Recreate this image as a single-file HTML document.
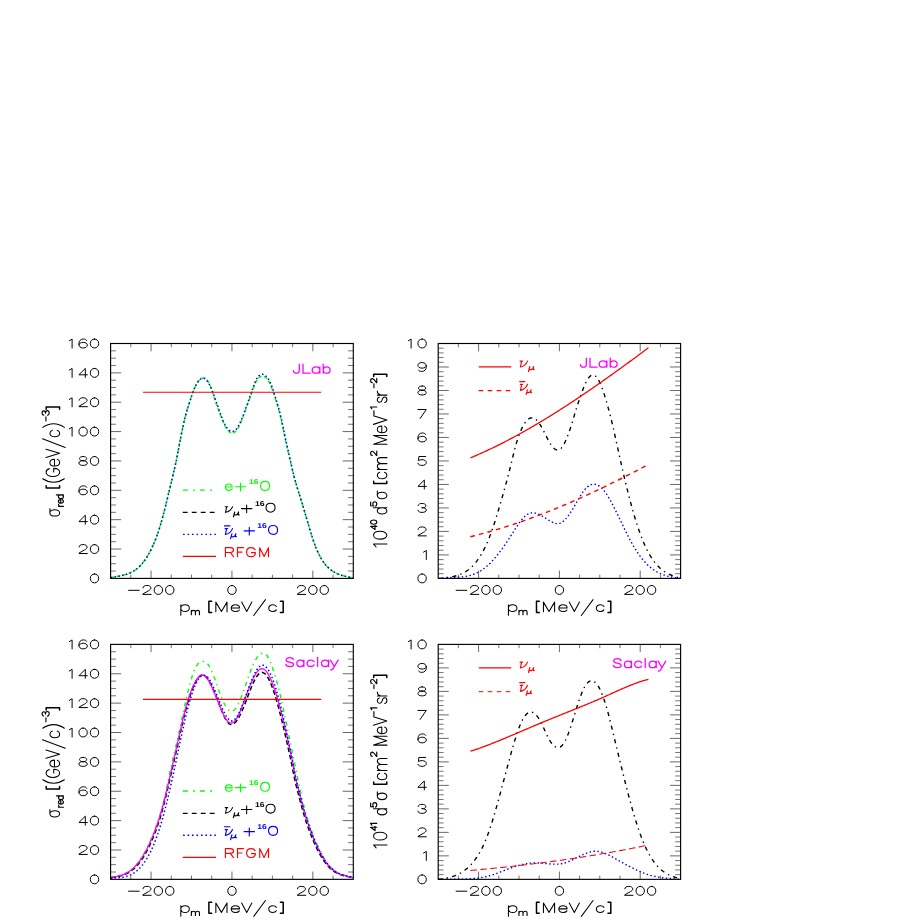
<!DOCTYPE html>
<html lang="en"><head><meta charset="utf-8"><title>Reduced and differential cross sections</title>
<style>html,body{margin:0;padding:0;background:#fff;width:919px;height:919px;overflow:hidden}svg{display:block;font-family:"Liberation Sans",sans-serif}</style></head>
<body>
<svg width="919" height="919" viewBox="0 0 919 919" text-rendering="geometricPrecision">
<rect x="0" y="0" width="919" height="919" fill="#fff"/>
<g opacity="0.999">
<clipPath id="c1"><rect x="110.6" y="343.5" width="242.7" height="235.5"/></clipPath>
<clipPath id="c2"><rect x="438.2" y="343.5" width="242.4" height="235.5"/></clipPath>
<clipPath id="c3"><rect x="110.6" y="644.4" width="242.7" height="235.55"/></clipPath>
<clipPath id="c4"><rect x="438.2" y="644.4" width="242.4" height="235.55"/></clipPath>
<g clip-path="url(#c1)">
<path d="M110.7 577.8 L111.7 577.55 L112.7 577.32 L113.71 577.1 L114.71 576.9 L115.71 576.7 L116.71 576.51 L117.72 576.33 L118.72 576.14 L119.72 575.94 L120.72 575.74 L121.73 575.53 L122.73 575.3 L123.73 575.06 L124.73 574.8 L125.74 574.51 L126.74 574.19 L127.74 573.85 L128.74 573.47 L129.75 573.05 L130.75 572.6 L131.75 572.1 L132.75 571.56 L133.76 570.96 L134.76 570.31 L135.76 569.61 L136.76 568.85 L137.77 568.02 L138.77 567.13 L139.77 566.17 L140.77 565.14 L141.78 564.03 L142.78 562.84 L143.78 561.57 L144.78 560.22 L145.79 558.77 L146.79 557.24 L147.79 555.61 L148.79 553.88 L149.8 552.05 L150.8 550.11 L151.8 548.07 L152.8 545.92 L153.81 543.65 L154.81 541.25 L155.81 538.72 L156.81 536.05 L157.82 533.23 L158.82 530.25 L159.82 527.1 L160.82 523.78 L161.83 520.28 L162.83 516.59 L163.83 512.75 L164.83 508.79 L165.84 504.74 L166.84 500.63 L167.84 496.49 L168.84 492.35 L169.85 488.24 L170.85 484.16 L171.85 480.05 L172.85 475.89 L173.86 471.61 L174.86 467.16 L175.86 462.52 L176.86 457.62 L177.87 452.49 L178.87 447.24 L179.87 441.98 L180.87 436.81 L181.88 431.8 L182.88 426.99 L183.88 422.44 L184.88 418.2 L185.89 414.32 L186.89 410.8 L187.89 407.53 L188.89 404.38 L189.9 401.26 L190.9 398.16 L191.9 395.16 L192.9 392.33 L193.91 389.73 L194.91 387.39 L195.91 385.31 L196.91 383.48 L197.92 381.91 L198.92 380.6 L199.92 379.54 L200.92 378.75 L201.93 378.22 L202.93 377.95 L203.93 377.95 L204.93 378.25 L205.94 378.88 L206.94 379.87 L207.94 381.26 L208.94 383.07 L209.95 385.29 L210.95 387.86 L211.95 390.68 L212.95 393.68 L213.96 396.78 L214.96 399.89 L215.96 402.93 L216.96 405.84 L217.97 408.61 L218.97 411.28 L219.97 413.89 L220.97 416.47 L221.98 419.01 L222.98 421.47 L223.98 423.77 L224.98 425.86 L225.99 427.69 L226.99 429.25 L227.99 430.54 L228.99 431.56 L230 432.3 L231 432.77 L232 432.96 L233 432.87 L234 432.51 L235.01 431.86 L236.01 430.93 L237.01 429.72 L238.01 428.22 L239.02 426.44 L240.02 424.39 L241.02 422.11 L242.02 419.63 L243.03 417.01 L244.03 414.29 L245.03 411.49 L246.03 408.68 L247.04 405.87 L248.04 403.13 L249.04 400.42 L250.04 397.72 L251.05 394.98 L252.05 392.17 L253.05 389.31 L254.05 386.52 L255.06 383.94 L256.06 381.71 L257.06 379.91 L258.06 378.53 L259.07 377.53 L260.07 376.85 L261.07 376.46 L262.07 376.31 L263.08 376.37 L264.08 376.62 L265.08 377.1 L266.08 377.84 L267.09 378.85 L268.09 380.17 L269.09 381.84 L270.09 383.89 L271.1 386.32 L272.1 389.02 L273.1 391.91 L274.1 394.9 L275.11 397.96 L276.11 401.12 L277.11 404.38 L278.11 407.78 L279.12 411.39 L280.12 415.3 L281.12 419.56 L282.12 424.12 L283.13 428.83 L284.13 433.54 L285.13 438.18 L286.13 442.73 L287.14 447.19 L288.14 451.58 L289.14 455.95 L290.14 460.36 L291.15 464.74 L292.15 469.04 L293.15 473.18 L294.15 477.1 L295.16 480.78 L296.16 484.26 L297.16 487.6 L298.16 490.83 L299.17 494.01 L300.17 497.19 L301.17 500.4 L302.17 503.67 L303.18 506.97 L304.18 510.3 L305.18 513.66 L306.18 517.04 L307.19 520.43 L308.19 523.82 L309.19 527.21 L310.19 530.57 L311.2 533.87 L312.2 537.08 L313.2 540.16 L314.2 543.06 L315.21 545.78 L316.21 548.32 L317.21 550.69 L318.21 552.9 L319.22 554.95 L320.22 556.85 L321.22 558.62 L322.22 560.25 L323.23 561.75 L324.23 563.14 L325.23 564.41 L326.23 565.59 L327.24 566.67 L328.24 567.66 L329.24 568.57 L330.24 569.41 L331.25 570.19 L332.25 570.91 L333.25 571.57 L334.25 572.17 L335.26 572.73 L336.26 573.24 L337.26 573.71 L338.26 574.14 L339.27 574.53 L340.27 574.89 L341.27 575.22 L342.27 575.53 L343.28 575.8 L344.28 576.06 L345.28 576.31 L346.28 576.53 L347.29 576.75 L348.29 576.96 L349.29 577.17 L350.29 577.38 L351.3 577.59 L352.3 577.8 L353.3 578.02" fill="none" stroke="#00ff00" stroke-width="1.5" stroke-linecap="butt" stroke-linejoin="round" stroke-dasharray="3.8 2.3"/>
<path d="M110.7 577.8 L111.7 577.55 L112.7 577.32 L113.71 577.11 L114.71 576.9 L115.71 576.71 L116.71 576.52 L117.72 576.33 L118.72 576.14 L119.72 575.94 L120.72 575.74 L121.73 575.53 L122.73 575.3 L123.73 575.06 L124.73 574.8 L125.74 574.51 L126.74 574.19 L127.74 573.85 L128.74 573.47 L129.75 573.05 L130.75 572.6 L131.75 572.1 L132.75 571.55 L133.76 570.96 L134.76 570.31 L135.76 569.61 L136.76 568.85 L137.77 568.02 L138.77 567.13 L139.77 566.17 L140.77 565.13 L141.78 564.03 L142.78 562.84 L143.78 561.57 L144.78 560.21 L145.79 558.77 L146.79 557.24 L147.79 555.61 L148.79 553.88 L149.8 552.05 L150.8 550.11 L151.8 548.07 L152.8 545.92 L153.81 543.65 L154.81 541.25 L155.81 538.73 L156.81 536.06 L157.82 533.24 L158.82 530.26 L159.82 527.11 L160.82 523.79 L161.83 520.28 L162.83 516.59 L163.83 512.75 L164.83 508.79 L165.84 504.73 L166.84 500.62 L167.84 496.48 L168.84 492.34 L169.85 488.23 L170.85 484.15 L171.85 480.05 L172.85 475.89 L173.86 471.61 L174.86 467.18 L175.86 462.53 L176.86 457.64 L177.87 452.52 L178.87 447.27 L179.87 442.01 L180.87 436.81 L181.88 431.77 L182.88 426.93 L183.88 422.37 L184.88 418.14 L185.89 414.31 L186.89 410.85 L187.89 407.65 L188.89 404.55 L189.9 401.41 L190.9 398.24 L191.9 395.15 L192.9 392.23 L193.91 389.57 L194.91 387.18 L195.91 385.07 L196.91 383.25 L197.92 381.7 L198.92 380.44 L199.92 379.47 L200.92 378.78 L201.93 378.38 L202.93 378.26 L203.93 378.44 L204.93 378.9 L205.94 379.66 L206.94 380.71 L207.94 382.05 L208.94 383.68 L209.95 385.59 L210.95 387.75 L211.95 390.1 L212.95 392.64 L213.96 395.31 L214.96 398.1 L215.96 400.96 L216.96 403.86 L217.97 406.77 L218.97 409.65 L219.97 412.48 L220.97 415.22 L221.98 417.83 L222.98 420.29 L223.98 422.55 L224.98 424.6 L225.99 426.38 L226.99 427.91 L227.99 429.17 L228.99 430.16 L230 430.88 L231 431.33 L232 431.51 L233 431.42 L234 431.05 L235.01 430.41 L236.01 429.48 L237.01 428.28 L238.01 426.8 L239.02 425.04 L240.02 423.02 L241.02 420.77 L242.02 418.34 L243.03 415.76 L244.03 413.06 L245.03 410.28 L246.03 407.46 L247.04 404.63 L248.04 401.82 L249.04 399 L250.04 396.17 L251.05 393.29 L252.05 390.36 L253.05 387.46 L254.05 384.69 L255.06 382.16 L256.06 379.98 L257.06 378.17 L258.06 376.73 L259.07 375.63 L260.07 374.86 L261.07 374.4 L262.07 374.23 L263.08 374.35 L264.08 374.72 L265.08 375.34 L266.08 376.18 L267.09 377.24 L268.09 378.52 L269.09 380.1 L270.09 382.05 L271.1 384.42 L272.1 387.14 L273.1 390.1 L274.1 393.19 L275.11 396.32 L276.11 399.52 L277.11 402.79 L278.11 406.17 L279.12 409.73 L280.12 413.58 L281.12 417.81 L282.12 422.45 L283.13 427.3 L284.13 432.18 L285.13 436.97 L286.13 441.64 L287.14 446.2 L288.14 450.66 L289.14 455.11 L290.14 459.59 L291.15 464.07 L292.15 468.47 L293.15 472.72 L294.15 476.74 L295.16 480.5 L296.16 484.03 L297.16 487.4 L298.16 490.65 L299.17 493.85 L300.17 497.03 L301.17 500.26 L302.17 503.54 L303.18 506.86 L304.18 510.21 L305.18 513.59 L306.18 516.98 L307.19 520.38 L308.19 523.79 L309.19 527.19 L310.19 530.56 L311.2 533.87 L312.2 537.08 L313.2 540.15 L314.2 543.05 L315.21 545.77 L316.21 548.32 L317.21 550.69 L318.21 552.89 L319.22 554.94 L320.22 556.85 L321.22 558.61 L322.22 560.24 L323.23 561.75 L324.23 563.14 L325.23 564.41 L326.23 565.59 L327.24 566.67 L328.24 567.66 L329.24 568.57 L330.24 569.41 L331.25 570.19 L332.25 570.91 L333.25 571.57 L334.25 572.18 L335.26 572.73 L336.26 573.25 L337.26 573.71 L338.26 574.14 L339.27 574.53 L340.27 574.89 L341.27 575.22 L342.27 575.53 L343.28 575.8 L344.28 576.06 L345.28 576.31 L346.28 576.53 L347.29 576.75 L348.29 576.96 L349.29 577.17 L350.29 577.38 L351.3 577.59 L352.3 577.8 L353.3 578.03" fill="none" stroke="#0000ff" stroke-width="1.5" stroke-linecap="butt" stroke-linejoin="round" stroke-dasharray="1.5 2.4"/>
</g>
<path d="M142.9 392.3H321.2" stroke="#ff0000" stroke-width="1.1" fill="none"/>
<g clip-path="url(#c2)">
<path d="M438.4 578.61 L439.4 578.46 L440.4 578.33 L441.4 578.2 L442.4 578.08 L443.4 577.96 L444.4 577.85 L445.4 577.73 L446.4 577.61 L447.4 577.48 L448.4 577.35 L449.4 577.2 L450.4 577.05 L451.4 576.88 L452.4 576.69 L453.4 576.49 L454.4 576.26 L455.4 576.01 L456.4 575.74 L457.4 575.44 L458.4 575.11 L459.4 574.75 L460.4 574.35 L461.4 573.92 L462.4 573.45 L463.4 572.94 L464.4 572.39 L465.4 571.79 L466.4 571.15 L467.4 570.46 L468.4 569.72 L469.4 568.92 L470.4 568.07 L471.4 567.16 L472.4 566.19 L473.4 565.16 L474.4 564.06 L475.4 562.89 L476.4 561.64 L477.4 560.32 L478.4 558.92 L479.4 557.44 L480.4 555.86 L481.4 554.2 L482.4 552.45 L483.4 550.6 L484.4 548.65 L485.4 546.6 L486.4 544.45 L487.4 542.19 L488.4 539.82 L489.4 537.33 L490.4 534.74 L491.4 532.02 L492.4 529.19 L493.4 526.24 L494.4 523.2 L495.4 520.07 L496.4 516.86 L497.4 513.58 L498.4 510.26 L499.4 506.89 L500.4 503.49 L501.4 500.06 L502.4 496.61 L503.4 493.11 L504.4 489.56 L505.4 485.95 L506.4 482.28 L507.4 478.54 L508.4 474.71 L509.4 470.79 L510.4 466.78 L511.4 462.69 L512.4 458.58 L513.4 454.51 L514.4 450.55 L515.4 446.75 L516.4 443.17 L517.4 439.87 L518.4 436.83 L519.4 434.05 L520.4 431.52 L521.4 429.22 L522.4 427.14 L523.4 425.29 L524.4 423.64 L525.4 422.19 L526.4 420.95 L527.4 419.91 L528.4 419.08 L529.4 418.46 L530.4 418.04 L531.4 417.83 L532.4 417.82 L533.4 418.03 L534.4 418.44 L535.4 419.06 L536.4 419.89 L537.4 420.93 L538.4 422.17 L539.4 423.6 L540.4 425.19 L541.4 426.91 L542.4 428.73 L543.4 430.63 L544.4 432.57 L545.4 434.54 L546.4 436.51 L547.4 438.44 L548.4 440.31 L549.4 442.1 L550.4 443.77 L551.4 445.3 L552.4 446.66 L553.4 447.83 L554.4 448.77 L555.4 449.47 L556.4 449.89 L557.4 450.05 L558.4 449.93 L559.4 449.53 L560.4 448.85 L561.4 447.9 L562.4 446.67 L563.4 445.16 L564.4 443.36 L565.4 441.28 L566.4 438.95 L567.4 436.43 L568.4 433.78 L569.4 431.03 L570.4 428.17 L571.4 425.16 L572.4 421.96 L573.4 418.59 L574.4 415.14 L575.4 411.72 L576.4 408.44 L577.4 405.35 L578.4 402.4 L579.4 399.54 L580.4 396.7 L581.4 393.84 L582.4 391 L583.4 388.27 L584.4 385.71 L585.4 383.39 L586.4 381.34 L587.4 379.57 L588.4 378.08 L589.4 376.88 L590.4 375.97 L591.4 375.36 L592.4 375.05 L593.4 375.04 L594.4 375.35 L595.4 375.97 L596.4 376.91 L597.4 378.18 L598.4 379.77 L599.4 381.67 L600.4 383.85 L601.4 386.28 L602.4 388.94 L603.4 391.81 L604.4 394.86 L605.4 398.06 L606.4 401.41 L607.4 404.89 L608.4 408.5 L609.4 412.26 L610.4 416.15 L611.4 420.18 L612.4 424.36 L613.4 428.66 L614.4 433.05 L615.4 437.53 L616.4 442.05 L617.4 446.61 L618.4 451.18 L619.4 455.73 L620.4 460.24 L621.4 464.69 L622.4 469.1 L623.4 473.44 L624.4 477.72 L625.4 481.93 L626.4 486.07 L627.4 490.13 L628.4 494.11 L629.4 498.01 L630.4 501.81 L631.4 505.52 L632.4 509.13 L633.4 512.64 L634.4 516.05 L635.4 519.36 L636.4 522.55 L637.4 525.65 L638.4 528.64 L639.4 531.52 L640.4 534.29 L641.4 536.95 L642.4 539.51 L643.4 541.95 L644.4 544.29 L645.4 546.51 L646.4 548.62 L647.4 550.63 L648.4 552.53 L649.4 554.33 L650.4 556.03 L651.4 557.64 L652.4 559.16 L653.4 560.6 L654.4 561.94 L655.4 563.21 L656.4 564.4 L657.4 565.52 L658.4 566.57 L659.4 567.55 L660.4 568.46 L661.4 569.32 L662.4 570.12 L663.4 570.86 L664.4 571.55 L665.4 572.2 L666.4 572.8 L667.4 573.36 L668.4 573.88 L669.4 574.37 L670.4 574.82 L671.4 575.25 L672.4 575.66 L673.4 576.04 L674.4 576.41 L675.4 576.76 L676.4 577.1 L677.4 577.43 L678.4 577.76 L679.4 578.09 L680.4 578.42" fill="none" stroke="#000000" stroke-width="1.4" stroke-linecap="butt" stroke-linejoin="round" stroke-dasharray="4.2 4.2 1.4 4.2"/>
<path d="M438.4 578.69 L439.4 578.52 L440.4 578.37 L441.4 578.24 L442.4 578.13 L443.4 578.03 L444.4 577.94 L445.4 577.86 L446.4 577.79 L447.4 577.73 L448.4 577.68 L449.4 577.63 L450.4 577.58 L451.4 577.54 L452.4 577.5 L453.4 577.46 L454.4 577.42 L455.4 577.37 L456.4 577.32 L457.4 577.26 L458.4 577.2 L459.4 577.13 L460.4 577.04 L461.4 576.95 L462.4 576.84 L463.4 576.72 L464.4 576.58 L465.4 576.42 L466.4 576.25 L467.4 576.05 L468.4 575.84 L469.4 575.6 L470.4 575.33 L471.4 575.04 L472.4 574.72 L473.4 574.38 L474.4 574 L475.4 573.59 L476.4 573.15 L477.4 572.68 L478.4 572.17 L479.4 571.62 L480.4 571.03 L481.4 570.4 L482.4 569.73 L483.4 569.02 L484.4 568.27 L485.4 567.47 L486.4 566.63 L487.4 565.75 L488.4 564.83 L489.4 563.87 L490.4 562.88 L491.4 561.85 L492.4 560.78 L493.4 559.67 L494.4 558.54 L495.4 557.37 L496.4 556.17 L497.4 554.94 L498.4 553.67 L499.4 552.38 L500.4 551.06 L501.4 549.72 L502.4 548.35 L503.4 546.95 L504.4 545.53 L505.4 544.09 L506.4 542.62 L507.4 541.14 L508.4 539.63 L509.4 538.11 L510.4 536.56 L511.4 535 L512.4 533.43 L513.4 531.85 L514.4 530.27 L515.4 528.71 L516.4 527.16 L517.4 525.65 L518.4 524.18 L519.4 522.76 L520.4 521.39 L521.4 520.1 L522.4 518.89 L523.4 517.76 L524.4 516.73 L525.4 515.81 L526.4 515 L527.4 514.32 L528.4 513.78 L529.4 513.36 L530.4 513.07 L531.4 512.89 L532.4 512.82 L533.4 512.85 L534.4 512.97 L535.4 513.17 L536.4 513.45 L537.4 513.79 L538.4 514.2 L539.4 514.65 L540.4 515.15 L541.4 515.69 L542.4 516.26 L543.4 516.85 L544.4 517.46 L545.4 518.09 L546.4 518.72 L547.4 519.35 L548.4 519.98 L549.4 520.59 L550.4 521.18 L551.4 521.74 L552.4 522.25 L553.4 522.7 L554.4 523.09 L555.4 523.38 L556.4 523.57 L557.4 523.65 L558.4 523.6 L559.4 523.4 L560.4 523.06 L561.4 522.56 L562.4 521.92 L563.4 521.15 L564.4 520.25 L565.4 519.24 L566.4 518.11 L567.4 516.89 L568.4 515.58 L569.4 514.18 L570.4 512.7 L571.4 511.16 L572.4 509.56 L573.4 507.92 L574.4 506.22 L575.4 504.5 L576.4 502.75 L577.4 500.98 L578.4 499.23 L579.4 497.5 L580.4 495.83 L581.4 494.23 L582.4 492.72 L583.4 491.31 L584.4 490.02 L585.4 488.84 L586.4 487.79 L587.4 486.87 L588.4 486.09 L589.4 485.45 L590.4 484.94 L591.4 484.57 L592.4 484.33 L593.4 484.22 L594.4 484.23 L595.4 484.38 L596.4 484.65 L597.4 485.04 L598.4 485.55 L599.4 486.19 L600.4 486.95 L601.4 487.82 L602.4 488.81 L603.4 489.91 L604.4 491.13 L605.4 492.46 L606.4 493.89 L607.4 495.42 L608.4 497.03 L609.4 498.72 L610.4 500.49 L611.4 502.32 L612.4 504.2 L613.4 506.13 L614.4 508.1 L615.4 510.09 L616.4 512.12 L617.4 514.16 L618.4 516.22 L619.4 518.29 L620.4 520.37 L621.4 522.45 L622.4 524.53 L623.4 526.6 L624.4 528.66 L625.4 530.7 L626.4 532.72 L627.4 534.71 L628.4 536.68 L629.4 538.6 L630.4 540.49 L631.4 542.33 L632.4 544.13 L633.4 545.87 L634.4 547.55 L635.4 549.19 L636.4 550.77 L637.4 552.29 L638.4 553.77 L639.4 555.19 L640.4 556.56 L641.4 557.87 L642.4 559.14 L643.4 560.34 L644.4 561.5 L645.4 562.6 L646.4 563.65 L647.4 564.65 L648.4 565.59 L649.4 566.49 L650.4 567.34 L651.4 568.14 L652.4 568.9 L653.4 569.62 L654.4 570.29 L655.4 570.93 L656.4 571.53 L657.4 572.09 L658.4 572.62 L659.4 573.11 L660.4 573.58 L661.4 574.01 L662.4 574.41 L663.4 574.79 L664.4 575.14 L665.4 575.47 L666.4 575.77 L667.4 576.06 L668.4 576.32 L669.4 576.57 L670.4 576.8 L671.4 577.02 L672.4 577.22 L673.4 577.42 L674.4 577.6 L675.4 577.78 L676.4 577.95 L677.4 578.11 L678.4 578.27 L679.4 578.43 L680.4 578.59" fill="none" stroke="#0000ff" stroke-width="1.4" stroke-linecap="butt" stroke-linejoin="round" stroke-dasharray="1.5 2.4"/>
<path d="M470.4 536.72 L471.4 536.47 L472.4 536.23 L473.4 535.98 L474.4 535.73 L475.4 535.47 L476.4 535.22 L477.4 534.96 L478.4 534.7 L479.4 534.44 L480.4 534.18 L481.4 533.91 L482.4 533.64 L483.4 533.37 L484.4 533.1 L485.4 532.83 L486.4 532.55 L487.4 532.27 L488.4 531.99 L489.4 531.71 L490.4 531.42 L491.4 531.13 L492.4 530.85 L493.4 530.55 L494.4 530.26 L495.4 529.97 L496.4 529.67 L497.4 529.37 L498.4 529.07 L499.4 528.76 L500.4 528.46 L501.4 528.15 L502.4 527.84 L503.4 527.53 L504.4 527.22 L505.4 526.9 L506.4 526.58 L507.4 526.27 L508.4 525.94 L509.4 525.62 L510.4 525.3 L511.4 524.97 L512.4 524.64 L513.4 524.31 L514.4 523.97 L515.4 523.64 L516.4 523.3 L517.4 522.96 L518.4 522.62 L519.4 522.28 L520.4 521.94 L521.4 521.59 L522.4 521.24 L523.4 520.89 L524.4 520.54 L525.4 520.18 L526.4 519.83 L527.4 519.47 L528.4 519.11 L529.4 518.75 L530.4 518.39 L531.4 518.02 L532.4 517.66 L533.4 517.29 L534.4 516.92 L535.4 516.54 L536.4 516.17 L537.4 515.79 L538.4 515.42 L539.4 515.04 L540.4 514.66 L541.4 514.27 L542.4 513.89 L543.4 513.5 L544.4 513.11 L545.4 512.72 L546.4 512.33 L547.4 511.94 L548.4 511.54 L549.4 511.15 L550.4 510.75 L551.4 510.35 L552.4 509.95 L553.4 509.54 L554.4 509.14 L555.4 508.73 L556.4 508.32 L557.4 507.91 L558.4 507.5 L559.4 507.09 L560.4 506.67 L561.4 506.26 L562.4 505.84 L563.4 505.42 L564.4 505 L565.4 504.57 L566.4 504.15 L567.4 503.72 L568.4 503.29 L569.4 502.86 L570.4 502.43 L571.4 502 L572.4 501.56 L573.4 501.13 L574.4 500.69 L575.4 500.25 L576.4 499.81 L577.4 499.37 L578.4 498.93 L579.4 498.48 L580.4 498.03 L581.4 497.59 L582.4 497.14 L583.4 496.69 L584.4 496.23 L585.4 495.78 L586.4 495.32 L587.4 494.87 L588.4 494.41 L589.4 493.95 L590.4 493.49 L591.4 493.02 L592.4 492.56 L593.4 492.09 L594.4 491.63 L595.4 491.16 L596.4 490.69 L597.4 490.22 L598.4 489.74 L599.4 489.27 L600.4 488.79 L601.4 488.32 L602.4 487.84 L603.4 487.36 L604.4 486.88 L605.4 486.39 L606.4 485.91 L607.4 485.42 L608.4 484.94 L609.4 484.45 L610.4 483.96 L611.4 483.47 L612.4 482.98 L613.4 482.49 L614.4 481.99 L615.4 481.5 L616.4 481 L617.4 480.5 L618.4 480 L619.4 479.5 L620.4 479 L621.4 478.5 L622.4 477.99 L623.4 477.48 L624.4 476.98 L625.4 476.47 L626.4 475.96 L627.4 475.45 L628.4 474.94 L629.4 474.42 L630.4 473.91 L631.4 473.39 L632.4 472.88 L633.4 472.36 L634.4 471.84 L635.4 471.32 L636.4 470.8 L637.4 470.28 L638.4 469.75 L639.4 469.23 L640.4 468.7 L641.4 468.18 L642.4 467.65 L643.4 467.12 L644.4 466.59 L645.4 466.06 L646.4 465.52 L647.4 464.99 L648.4 464.46" fill="none" stroke="#ff0000" stroke-width="1.4" stroke-linecap="butt" stroke-linejoin="round" stroke-dasharray="4.6 4.2"/>
<path d="M470.4 457.89 L471.4 457.48 L472.4 457.06 L473.4 456.63 L474.4 456.21 L475.4 455.78 L476.4 455.35 L477.4 454.91 L478.4 454.47 L479.4 454.03 L480.4 453.59 L481.4 453.14 L482.4 452.69 L483.4 452.23 L484.4 451.78 L485.4 451.32 L486.4 450.86 L487.4 450.39 L488.4 449.92 L489.4 449.45 L490.4 448.98 L491.4 448.5 L492.4 448.02 L493.4 447.54 L494.4 447.05 L495.4 446.57 L496.4 446.07 L497.4 445.58 L498.4 445.08 L499.4 444.59 L500.4 444.08 L501.4 443.58 L502.4 443.07 L503.4 442.56 L504.4 442.05 L505.4 441.54 L506.4 441.02 L507.4 440.5 L508.4 439.97 L509.4 439.45 L510.4 438.92 L511.4 438.39 L512.4 437.86 L513.4 437.32 L514.4 436.78 L515.4 436.24 L516.4 435.7 L517.4 435.15 L518.4 434.6 L519.4 434.05 L520.4 433.5 L521.4 432.95 L522.4 432.39 L523.4 431.83 L524.4 431.26 L525.4 430.7 L526.4 430.13 L527.4 429.56 L528.4 428.99 L529.4 428.42 L530.4 427.84 L531.4 427.26 L532.4 426.68 L533.4 426.1 L534.4 425.51 L535.4 424.92 L536.4 424.33 L537.4 423.74 L538.4 423.15 L539.4 422.55 L540.4 421.95 L541.4 421.35 L542.4 420.75 L543.4 420.14 L544.4 419.54 L545.4 418.93 L546.4 418.32 L547.4 417.7 L548.4 417.09 L549.4 416.47 L550.4 415.85 L551.4 415.23 L552.4 414.61 L553.4 413.98 L554.4 413.35 L555.4 412.73 L556.4 412.1 L557.4 411.46 L558.4 410.83 L559.4 410.19 L560.4 409.55 L561.4 408.91 L562.4 408.27 L563.4 407.63 L564.4 406.98 L565.4 406.33 L566.4 405.68 L567.4 405.03 L568.4 404.38 L569.4 403.73 L570.4 403.07 L571.4 402.41 L572.4 401.75 L573.4 401.09 L574.4 400.43 L575.4 399.77 L576.4 399.1 L577.4 398.43 L578.4 397.76 L579.4 397.09 L580.4 396.42 L581.4 395.75 L582.4 395.07 L583.4 394.39 L584.4 393.72 L585.4 393.04 L586.4 392.35 L587.4 391.67 L588.4 390.99 L589.4 390.3 L590.4 389.61 L591.4 388.93 L592.4 388.24 L593.4 387.54 L594.4 386.85 L595.4 386.16 L596.4 385.46 L597.4 384.77 L598.4 384.07 L599.4 383.37 L600.4 382.67 L601.4 381.97 L602.4 381.26 L603.4 380.56 L604.4 379.85 L605.4 379.15 L606.4 378.44 L607.4 377.73 L608.4 377.02 L609.4 376.31 L610.4 375.6 L611.4 374.88 L612.4 374.17 L613.4 373.45 L614.4 372.74 L615.4 372.02 L616.4 371.3 L617.4 370.58 L618.4 369.86 L619.4 369.14 L620.4 368.42 L621.4 367.69 L622.4 366.97 L623.4 366.24 L624.4 365.51 L625.4 364.79 L626.4 364.06 L627.4 363.33 L628.4 362.6 L629.4 361.87 L630.4 361.14 L631.4 360.4 L632.4 359.67 L633.4 358.94 L634.4 358.2 L635.4 357.47 L636.4 356.73 L637.4 355.99 L638.4 355.25 L639.4 354.51 L640.4 353.78 L641.4 353.04 L642.4 352.29 L643.4 351.55 L644.4 350.81 L645.4 350.07 L646.4 349.33 L647.4 348.58 L648.4 347.84" fill="none" stroke="#ff0000" stroke-width="1.3" stroke-linecap="butt" stroke-linejoin="round"/>
</g>
<g clip-path="url(#c3)">
<path d="M110.7 877.57 L111.7 877.35 L112.7 877.14 L113.7 876.92 L114.7 876.7 L115.71 876.48 L116.71 876.24 L117.71 875.99 L118.71 875.72 L119.71 875.44 L120.71 875.13 L121.71 874.79 L122.71 874.42 L123.72 874.02 L124.72 873.58 L125.72 873.1 L126.72 872.58 L127.72 872.01 L128.72 871.39 L129.72 870.72 L130.72 869.99 L131.73 869.2 L132.73 868.34 L133.73 867.42 L134.73 866.43 L135.73 865.37 L136.73 864.23 L137.73 863.01 L138.73 861.71 L139.74 860.33 L140.74 858.87 L141.74 857.34 L142.74 855.72 L143.74 854.03 L144.74 852.26 L145.74 850.41 L146.74 848.48 L147.75 846.48 L148.75 844.4 L149.75 842.24 L150.75 840.01 L151.75 837.7 L152.75 835.31 L153.75 832.82 L154.75 830.23 L155.76 827.53 L156.76 824.71 L157.76 821.76 L158.76 818.69 L159.76 815.47 L160.76 812.1 L161.76 808.55 L162.76 804.81 L163.77 800.87 L164.77 796.71 L165.77 792.31 L166.77 787.66 L167.77 782.79 L168.77 777.81 L169.77 772.87 L170.77 768.09 L171.78 763.56 L172.78 759.25 L173.78 755.06 L174.78 750.9 L175.78 746.7 L176.78 742.39 L177.78 737.96 L178.78 733.43 L179.79 728.8 L180.79 724.1 L181.79 719.35 L182.79 714.59 L183.79 709.86 L184.79 705.21 L185.79 700.67 L186.79 696.29 L187.8 692.1 L188.8 688.14 L189.8 684.4 L190.8 680.87 L191.8 677.55 L192.8 674.46 L193.8 671.66 L194.8 669.2 L195.81 667.13 L196.81 665.43 L197.81 664.08 L198.81 663.04 L199.81 662.28 L200.81 661.78 L201.81 661.49 L202.81 661.41 L203.82 661.49 L204.82 661.74 L205.82 662.22 L206.82 662.98 L207.82 664.07 L208.82 665.49 L209.82 667.23 L210.82 669.24 L211.83 671.48 L212.83 673.92 L213.83 676.51 L214.83 679.23 L215.83 682.02 L216.83 684.85 L217.83 687.69 L218.83 690.5 L219.84 693.23 L220.84 695.85 L221.84 698.33 L222.84 700.66 L223.84 702.8 L224.84 704.75 L225.84 706.49 L226.84 707.99 L227.85 709.23 L228.85 710.2 L229.85 710.88 L230.85 711.25 L231.85 711.29 L232.85 710.98 L233.85 710.34 L234.85 709.38 L235.85 708.12 L236.86 706.6 L237.86 704.83 L238.86 702.83 L239.86 700.62 L240.86 698.24 L241.86 695.7 L242.86 693.02 L243.86 690.23 L244.87 687.35 L245.87 684.43 L246.87 681.49 L247.87 678.56 L248.87 675.68 L249.87 672.87 L250.87 670.17 L251.87 667.61 L252.88 665.22 L253.88 663.02 L254.88 661.03 L255.88 659.29 L256.88 657.78 L257.88 656.5 L258.88 655.44 L259.88 654.57 L260.89 653.89 L261.89 653.42 L262.89 653.22 L263.89 653.29 L264.89 653.69 L265.89 654.43 L266.89 655.51 L267.89 656.94 L268.9 658.74 L269.9 660.9 L270.9 663.36 L271.9 666.07 L272.9 668.97 L273.9 672.01 L274.9 675.18 L275.9 678.49 L276.91 681.97 L277.91 685.63 L278.91 689.48 L279.91 693.54 L280.91 697.81 L281.91 702.29 L282.91 706.92 L283.91 711.67 L284.92 716.49 L285.92 721.34 L286.92 726.18 L287.92 730.97 L288.92 735.73 L289.92 740.49 L290.92 745.28 L291.92 750.15 L292.93 755.06 L293.93 760 L294.93 764.95 L295.93 769.87 L296.93 774.76 L297.93 779.59 L298.93 784.33 L299.93 788.97 L300.94 793.47 L301.94 797.83 L302.94 802.01 L303.94 806 L304.94 809.79 L305.94 813.4 L306.94 816.83 L307.94 820.1 L308.95 823.22 L309.95 826.19 L310.95 829.03 L311.95 831.75 L312.95 834.36 L313.95 836.87 L314.95 839.29 L315.95 841.64 L316.96 843.91 L317.96 846.12 L318.96 848.25 L319.96 850.31 L320.96 852.29 L321.96 854.19 L322.96 856.02 L323.96 857.76 L324.97 859.42 L325.97 860.99 L326.97 862.47 L327.97 863.86 L328.97 865.17 L329.97 866.37 L330.97 867.49 L331.97 868.5 L332.98 869.43 L333.98 870.26 L334.98 871.02 L335.98 871.7 L336.98 872.31 L337.98 872.86 L338.98 873.35 L339.98 873.79 L340.99 874.18 L341.99 874.54 L342.99 874.86 L343.99 875.15 L344.99 875.42 L345.99 875.68 L346.99 875.92 L347.99 876.16 L349 876.41 L350 876.66 L351 876.92 L352 877.21 L353 877.52" fill="none" stroke="#00ff00" stroke-width="1.4" stroke-linecap="butt" stroke-linejoin="round" stroke-dasharray="4.2 4.2 1.4 4.2"/>
<path d="M110.7 877.87 L111.7 877.68 L112.7 877.5 L113.7 877.32 L114.7 877.13 L115.71 876.94 L116.71 876.74 L117.71 876.53 L118.71 876.31 L119.71 876.06 L120.71 875.79 L121.71 875.5 L122.71 875.18 L123.72 874.83 L124.72 874.45 L125.72 874.02 L126.72 873.56 L127.72 873.05 L128.72 872.5 L129.72 871.89 L130.72 871.24 L131.73 870.52 L132.73 869.75 L133.73 868.91 L134.73 868.01 L135.73 867.03 L136.73 865.99 L137.73 864.87 L138.73 863.67 L139.74 862.4 L140.74 861.05 L141.74 859.62 L142.74 858.11 L143.74 856.51 L144.74 854.84 L145.74 853.08 L146.74 851.24 L147.75 849.31 L148.75 847.29 L149.75 845.19 L150.75 843 L151.75 840.72 L152.75 838.36 L153.75 835.9 L154.75 833.35 L155.76 830.7 L156.76 827.95 L157.76 825.08 L158.76 822.09 L159.76 818.96 L160.76 815.68 L161.76 812.25 L162.76 808.65 L163.77 804.87 L164.77 800.94 L165.77 796.87 L166.77 792.69 L167.77 788.42 L168.77 784.1 L169.77 779.74 L170.77 775.36 L171.78 770.99 L172.78 766.6 L173.78 762.2 L174.78 757.78 L175.78 753.33 L176.78 748.85 L177.78 744.34 L178.78 739.81 L179.79 735.28 L180.79 730.77 L181.79 726.31 L182.79 721.93 L183.79 717.68 L184.79 713.59 L185.79 709.7 L186.79 706.02 L187.8 702.56 L188.8 699.3 L189.8 696.23 L190.8 693.35 L191.8 690.64 L192.8 688.11 L193.8 685.75 L194.8 683.59 L195.81 681.64 L196.81 679.9 L197.81 678.41 L198.81 677.17 L199.81 676.19 L200.81 675.5 L201.81 675.1 L202.81 675.01 L203.82 675.24 L204.82 675.77 L205.82 676.57 L206.82 677.63 L207.82 678.93 L208.82 680.44 L209.82 682.16 L210.82 684.06 L211.83 686.12 L212.83 688.32 L213.83 690.64 L214.83 693.06 L215.83 695.57 L216.83 698.15 L217.83 700.76 L218.83 703.4 L219.84 706.04 L220.84 708.62 L221.84 711.13 L222.84 713.52 L223.84 715.76 L224.84 717.82 L225.84 719.66 L226.84 721.24 L227.85 722.54 L228.85 723.51 L229.85 724.15 L230.85 724.47 L231.85 724.49 L232.85 724.22 L233.85 723.68 L234.85 722.88 L235.85 721.83 L236.86 720.56 L237.86 719.06 L238.86 717.37 L239.86 715.51 L240.86 713.48 L241.86 711.3 L242.86 709.01 L243.86 706.6 L244.87 704.11 L245.87 701.54 L246.87 698.92 L247.87 696.28 L248.87 693.64 L249.87 691.04 L250.87 688.5 L251.87 686.06 L252.88 683.75 L253.88 681.59 L254.88 679.61 L255.88 677.84 L256.88 676.3 L257.88 674.99 L258.88 673.93 L259.88 673.15 L260.89 672.65 L261.89 672.45 L262.89 672.57 L263.89 673 L264.89 673.74 L265.89 674.76 L266.89 676.05 L267.89 677.62 L268.9 679.43 L269.9 681.49 L270.9 683.77 L271.9 686.28 L272.9 688.99 L273.9 691.9 L274.9 694.99 L275.9 698.25 L276.91 701.67 L277.91 705.24 L278.91 708.95 L279.91 712.78 L280.91 716.73 L281.91 720.79 L282.91 724.94 L283.91 729.18 L284.92 733.5 L285.92 737.88 L286.92 742.31 L287.92 746.78 L288.92 751.27 L289.92 755.79 L290.92 760.45 L291.92 765.36 L292.93 770.52 L293.93 775.59 L294.93 780.24 L295.93 784.5 L296.93 788.51 L297.93 792.41 L298.93 796.28 L299.93 800.12 L300.94 803.9 L301.94 807.59 L302.94 811.19 L303.94 814.66 L304.94 817.99 L305.94 821.16 L306.94 824.17 L307.94 827.04 L308.95 829.79 L309.95 832.44 L310.95 835.01 L311.95 837.5 L312.95 839.9 L313.95 842.22 L314.95 844.46 L315.95 846.61 L316.96 848.68 L317.96 850.67 L318.96 852.58 L319.96 854.4 L320.96 856.14 L321.96 857.8 L322.96 859.37 L323.96 860.87 L324.97 862.28 L325.97 863.61 L326.97 864.86 L327.97 866.03 L328.97 867.11 L329.97 868.12 L330.97 869.04 L331.97 869.89 L332.98 870.67 L333.98 871.38 L334.98 872.02 L335.98 872.61 L336.98 873.14 L337.98 873.62 L338.98 874.06 L339.98 874.45 L340.99 874.81 L341.99 875.14 L342.99 875.43 L343.99 875.71 L344.99 875.96 L345.99 876.2 L346.99 876.42 L347.99 876.64 L349 876.86 L350 877.08 L351 877.31 L352 877.55 L353 877.8" fill="none" stroke="#000000" stroke-width="1.5" stroke-linecap="butt" stroke-linejoin="round" stroke-dasharray="4.6 2.8"/>
<path d="M110.7 877.65 L111.7 877.47 L112.7 877.28 L113.7 877.1 L114.7 876.9 L115.71 876.69 L116.71 876.47 L117.71 876.23 L118.71 875.98 L119.71 875.7 L120.71 875.39 L121.71 875.06 L122.71 874.7 L123.72 874.3 L124.72 873.86 L125.72 873.39 L126.72 872.87 L127.72 872.31 L128.72 871.69 L129.72 871.03 L130.72 870.31 L131.73 869.53 L132.73 868.69 L133.73 867.79 L134.73 866.83 L135.73 865.79 L136.73 864.68 L137.73 863.49 L138.73 862.23 L139.74 860.89 L140.74 859.48 L141.74 857.98 L142.74 856.41 L143.74 854.75 L144.74 853.02 L145.74 851.2 L146.74 849.3 L147.75 847.31 L148.75 845.25 L149.75 843.09 L150.75 840.85 L151.75 838.52 L152.75 836.11 L153.75 833.61 L154.75 831.01 L155.76 828.33 L156.76 825.54 L157.76 822.64 L158.76 819.61 L159.76 816.45 L160.76 813.14 L161.76 809.68 L162.76 806.05 L163.77 802.25 L164.77 798.28 L165.77 794.19 L166.77 789.98 L167.77 785.69 L168.77 781.34 L169.77 776.96 L170.77 772.57 L171.78 768.17 L172.78 763.78 L173.78 759.37 L174.78 754.95 L175.78 750.52 L176.78 746.07 L177.78 741.61 L178.78 737.12 L179.79 732.65 L180.79 728.18 L181.79 723.77 L182.79 719.44 L183.79 715.25 L184.79 711.23 L185.79 707.43 L186.79 703.86 L187.8 700.53 L188.8 697.41 L189.8 694.5 L190.8 691.78 L191.8 689.23 L192.8 686.85 L193.8 684.64 L194.8 682.61 L195.81 680.8 L196.81 679.19 L197.81 677.83 L198.81 676.71 L199.81 675.86 L200.81 675.3 L201.81 675.03 L202.81 675.08 L203.82 675.43 L204.82 676.07 L205.82 676.99 L206.82 678.15 L207.82 679.54 L208.82 681.14 L209.82 682.92 L210.82 684.87 L211.83 686.96 L212.83 689.17 L213.83 691.49 L214.83 693.89 L215.83 696.35 L216.83 698.85 L217.83 701.36 L218.83 703.87 L219.84 706.35 L220.84 708.76 L221.84 711.08 L222.84 713.28 L223.84 715.32 L224.84 717.19 L225.84 718.84 L226.84 720.25 L227.85 721.39 L228.85 722.24 L229.85 722.78 L230.85 723.02 L231.85 722.96 L232.85 722.61 L233.85 721.95 L234.85 721 L235.85 719.76 L236.86 718.24 L237.86 716.44 L238.86 714.4 L239.86 712.17 L240.86 709.77 L241.86 707.25 L242.86 704.62 L243.86 701.94 L244.87 699.22 L245.87 696.52 L246.87 693.83 L247.87 691.19 L248.87 688.62 L249.87 686.11 L250.87 683.71 L251.87 681.42 L252.88 679.26 L253.88 677.25 L254.88 675.4 L255.88 673.74 L256.88 672.28 L257.88 671.04 L258.88 670.04 L259.88 669.3 L260.89 668.83 L261.89 668.64 L262.89 668.77 L263.89 669.2 L264.89 669.91 L265.89 670.91 L266.89 672.17 L267.89 673.69 L268.9 675.45 L269.9 677.45 L270.9 679.66 L271.9 682.07 L272.9 684.69 L273.9 687.48 L274.9 690.45 L275.9 693.57 L276.91 696.84 L277.91 700.25 L278.91 703.78 L279.91 707.43 L280.91 711.19 L281.91 715.07 L282.91 719.05 L283.91 723.13 L284.92 727.32 L285.92 731.59 L286.92 735.96 L287.92 740.42 L288.92 744.93 L289.92 749.46 L290.92 753.98 L291.92 758.66 L292.93 763.74 L293.93 769.3 L294.93 774.74 L295.93 779.47 L296.93 783.59 L297.93 787.4 L298.93 791.21 L299.93 795.16 L300.94 799.15 L301.94 803.07 L302.94 806.8 L303.94 810.34 L304.94 813.71 L305.94 816.94 L306.94 820.06 L307.94 823.08 L308.95 826.01 L309.95 828.84 L310.95 831.57 L311.95 834.23 L312.95 836.79 L313.95 839.26 L314.95 841.65 L315.95 843.95 L316.96 846.16 L317.96 848.29 L318.96 850.33 L319.96 852.28 L320.96 854.15 L321.96 855.93 L322.96 857.62 L323.96 859.23 L324.97 860.75 L325.97 862.18 L326.97 863.53 L327.97 864.79 L328.97 865.97 L329.97 867.06 L330.97 868.07 L331.97 869 L332.98 869.85 L333.98 870.62 L334.98 871.33 L335.98 871.97 L336.98 872.55 L337.98 873.08 L338.98 873.56 L339.98 873.99 L340.99 874.38 L341.99 874.74 L342.99 875.06 L343.99 875.36 L344.99 875.64 L345.99 875.89 L346.99 876.14 L347.99 876.38 L349 876.61 L350 876.84 L351 877.08 L352 877.33 L353 877.6" fill="none" stroke="#ff00ff" stroke-width="1.3" stroke-linecap="butt" stroke-linejoin="round"/>
<path d="M110.7 878.09 L111.7 878.04 L112.7 878 L113.7 877.95 L114.7 877.91 L115.71 877.86 L116.71 877.81 L117.71 877.75 L118.71 877.67 L119.71 877.58 L120.71 877.47 L121.71 877.35 L122.71 877.19 L123.72 877.01 L124.72 876.8 L125.72 876.56 L126.72 876.29 L127.72 875.97 L128.72 875.61 L129.72 875.21 L130.72 874.76 L131.73 874.26 L132.73 873.71 L133.73 873.1 L134.73 872.43 L135.73 871.7 L136.73 870.91 L137.73 870.05 L138.73 869.11 L139.74 868.1 L140.74 867.02 L141.74 865.86 L142.74 864.61 L143.74 863.28 L144.74 861.86 L145.74 860.34 L146.74 858.74 L147.75 857.03 L148.75 855.23 L149.75 853.32 L150.75 851.31 L151.75 849.19 L152.75 846.95 L153.75 844.6 L154.75 842.13 L155.76 839.55 L156.76 836.83 L157.76 834 L158.76 831.03 L159.76 827.93 L160.76 824.69 L161.76 821.31 L162.76 817.8 L163.77 814.15 L164.77 810.38 L165.77 806.49 L166.77 802.49 L167.77 798.38 L168.77 794.17 L169.77 789.87 L170.77 785.49 L171.78 781.03 L172.78 776.51 L173.78 771.91 L174.78 767.27 L175.78 762.57 L176.78 757.83 L177.78 753.06 L178.78 748.28 L179.79 743.52 L180.79 738.79 L181.79 734.11 L182.79 729.51 L183.79 725 L184.79 720.61 L185.79 716.36 L186.79 712.25 L187.8 708.31 L188.8 704.53 L189.8 700.94 L190.8 697.54 L191.8 694.34 L192.8 691.36 L193.8 688.6 L194.8 686.08 L195.81 683.8 L196.81 681.78 L197.81 680.02 L198.81 678.54 L199.81 677.32 L200.81 676.38 L201.81 675.7 L202.81 675.3 L203.82 675.17 L204.82 675.32 L205.82 675.74 L206.82 676.43 L207.82 677.41 L208.82 678.65 L209.82 680.13 L210.82 681.82 L211.83 683.71 L212.83 685.76 L213.83 687.94 L214.83 690.23 L215.83 692.61 L216.83 695.05 L217.83 697.52 L218.83 700 L219.84 702.46 L220.84 704.87 L221.84 707.21 L222.84 709.46 L223.84 711.58 L224.84 713.55 L225.84 715.34 L226.84 716.94 L227.85 718.3 L228.85 719.42 L229.85 720.25 L230.85 720.78 L231.85 720.97 L232.85 720.81 L233.85 720.29 L234.85 719.43 L235.85 718.26 L236.86 716.8 L237.86 715.09 L238.86 713.16 L239.86 711.02 L240.86 708.71 L241.86 706.25 L242.86 703.68 L243.86 701.01 L244.87 698.28 L245.87 695.52 L246.87 692.74 L247.87 689.99 L248.87 687.28 L249.87 684.64 L250.87 682.1 L251.87 679.66 L252.88 677.36 L253.88 675.2 L254.88 673.2 L255.88 671.38 L256.88 669.76 L257.88 668.36 L258.88 667.19 L259.88 666.27 L260.89 665.62 L261.89 665.26 L262.89 665.2 L263.89 665.44 L264.89 665.98 L265.89 666.81 L266.89 667.92 L267.89 669.29 L268.9 670.92 L269.9 672.81 L270.9 674.93 L271.9 677.28 L272.9 679.86 L273.9 682.64 L274.9 685.63 L275.9 688.81 L276.91 692.18 L277.91 695.72 L278.91 699.42 L279.91 703.28 L280.91 707.28 L281.91 711.43 L282.91 715.7 L283.91 720.08 L284.92 724.58 L285.92 729.17 L286.92 733.85 L287.92 738.62 L288.92 743.43 L289.92 748.22 L290.92 752.92 L291.92 757.64 L292.93 762.66 L293.93 768.16 L294.93 773.68 L295.93 778.58 L296.93 782.8 L297.93 786.65 L298.93 790.44 L299.93 794.37 L300.94 798.36 L301.94 802.3 L302.94 806.07 L303.94 809.64 L304.94 813.05 L305.94 816.31 L306.94 819.45 L307.94 822.49 L308.95 825.43 L309.95 828.28 L310.95 831.03 L311.95 833.7 L312.95 836.28 L313.95 838.77 L314.95 841.18 L315.95 843.5 L316.96 845.73 L317.96 847.87 L318.96 849.93 L319.96 851.9 L320.96 853.78 L321.96 855.58 L322.96 857.29 L323.96 858.92 L324.97 860.45 L325.97 861.91 L326.97 863.27 L327.97 864.55 L328.97 865.75 L329.97 866.86 L330.97 867.88 L331.97 868.82 L332.98 869.68 L333.98 870.47 L334.98 871.18 L335.98 871.84 L336.98 872.43 L337.98 872.97 L338.98 873.46 L339.98 873.9 L340.99 874.3 L341.99 874.67 L342.99 875 L343.99 875.31 L344.99 875.6 L345.99 875.87 L346.99 876.13 L347.99 876.38 L349 876.63 L350 876.88 L351 877.14 L352 877.41 L353 877.7" fill="none" stroke="#0000ff" stroke-width="1.5" stroke-linecap="butt" stroke-linejoin="round" stroke-dasharray="1.5 2.4"/>
</g>
<path d="M142.9 699.4H321.2" stroke="#ff0000" stroke-width="1.1" fill="none"/>
<g clip-path="url(#c4)">
<path d="M438.4 879.38 L439.4 879.23 L440.4 879.08 L441.4 878.92 L442.4 878.77 L443.4 878.61 L444.4 878.44 L445.4 878.26 L446.4 878.07 L447.4 877.86 L448.4 877.64 L449.4 877.41 L450.4 877.15 L451.4 876.88 L452.4 876.58 L453.4 876.25 L454.4 875.91 L455.4 875.53 L456.4 875.12 L457.4 874.68 L458.4 874.21 L459.4 873.7 L460.4 873.16 L461.4 872.57 L462.4 871.95 L463.4 871.28 L464.4 870.56 L465.4 869.8 L466.4 868.99 L467.4 868.13 L468.4 867.22 L469.4 866.25 L470.4 865.23 L471.4 864.15 L472.4 863.01 L473.4 861.81 L474.4 860.54 L475.4 859.2 L476.4 857.77 L477.4 856.27 L478.4 854.68 L479.4 853 L480.4 851.22 L481.4 849.34 L482.4 847.36 L483.4 845.26 L484.4 843.05 L485.4 840.72 L486.4 838.26 L487.4 835.68 L488.4 832.96 L489.4 830.12 L490.4 827.16 L491.4 824.1 L492.4 820.93 L493.4 817.67 L494.4 814.32 L495.4 810.9 L496.4 807.41 L497.4 803.85 L498.4 800.25 L499.4 796.6 L500.4 792.91 L501.4 789.19 L502.4 785.45 L503.4 781.7 L504.4 777.94 L505.4 774.19 L506.4 770.44 L507.4 766.71 L508.4 763.01 L509.4 759.35 L510.4 755.73 L511.4 752.15 L512.4 748.64 L513.4 745.19 L514.4 741.82 L515.4 738.53 L516.4 735.36 L517.4 732.32 L518.4 729.45 L519.4 726.76 L520.4 724.28 L521.4 722.03 L522.4 720.01 L523.4 718.22 L524.4 716.65 L525.4 715.31 L526.4 714.2 L527.4 713.32 L528.4 712.67 L529.4 712.25 L530.4 712.05 L531.4 712.06 L532.4 712.29 L533.4 712.72 L534.4 713.36 L535.4 714.2 L536.4 715.24 L537.4 716.46 L538.4 717.87 L539.4 719.46 L540.4 721.23 L541.4 723.16 L542.4 725.22 L543.4 727.37 L544.4 729.58 L545.4 731.79 L546.4 733.97 L547.4 736.07 L548.4 738.06 L549.4 739.9 L550.4 741.56 L551.4 743.03 L552.4 744.32 L553.4 745.4 L554.4 746.29 L555.4 746.96 L556.4 747.41 L557.4 747.64 L558.4 747.64 L559.4 747.4 L560.4 746.9 L561.4 746.15 L562.4 745.13 L563.4 743.85 L564.4 742.28 L565.4 740.42 L566.4 738.31 L567.4 735.95 L568.4 733.38 L569.4 730.63 L570.4 727.72 L571.4 724.68 L572.4 721.55 L573.4 718.35 L574.4 715.12 L575.4 711.88 L576.4 708.66 L577.4 705.49 L578.4 702.41 L579.4 699.44 L580.4 696.61 L581.4 693.95 L582.4 691.5 L583.4 689.27 L584.4 687.31 L585.4 685.6 L586.4 684.14 L587.4 682.94 L588.4 682 L589.4 681.31 L590.4 680.87 L591.4 680.69 L592.4 680.75 L593.4 681.07 L594.4 681.64 L595.4 682.46 L596.4 683.52 L597.4 684.83 L598.4 686.38 L599.4 688.17 L600.4 690.2 L601.4 692.44 L602.4 694.91 L603.4 697.6 L604.4 700.49 L605.4 703.58 L606.4 706.88 L607.4 710.36 L608.4 714.04 L609.4 717.88 L610.4 721.85 L611.4 725.92 L612.4 730.05 L613.4 734.2 L614.4 738.35 L615.4 742.48 L616.4 746.6 L617.4 750.72 L618.4 754.84 L619.4 758.95 L620.4 763.05 L621.4 767.12 L622.4 771.18 L623.4 775.2 L624.4 779.2 L625.4 783.15 L626.4 787.07 L627.4 790.93 L628.4 794.74 L629.4 798.5 L630.4 802.19 L631.4 805.82 L632.4 809.37 L633.4 812.85 L634.4 816.25 L635.4 819.56 L636.4 822.78 L637.4 825.9 L638.4 828.92 L639.4 831.83 L640.4 834.64 L641.4 837.32 L642.4 839.89 L643.4 842.34 L644.4 844.68 L645.4 846.91 L646.4 849.03 L647.4 851.04 L648.4 852.96 L649.4 854.77 L650.4 856.49 L651.4 858.12 L652.4 859.65 L653.4 861.1 L654.4 862.47 L655.4 863.76 L656.4 864.97 L657.4 866.1 L658.4 867.17 L659.4 868.16 L660.4 869.09 L661.4 869.96 L662.4 870.77 L663.4 871.53 L664.4 872.23 L665.4 872.88 L666.4 873.49 L667.4 874.05 L668.4 874.57 L669.4 875.05 L670.4 875.5 L671.4 875.92 L672.4 876.31 L673.4 876.67 L674.4 877.01 L675.4 877.34 L676.4 877.64 L677.4 877.93 L678.4 878.22 L679.4 878.49 L680.4 878.76" fill="none" stroke="#000000" stroke-width="1.4" stroke-linecap="butt" stroke-linejoin="round" stroke-dasharray="4.2 4.2 1.4 4.2"/>
<path d="M438.4 879.51 L439.4 879.47 L440.4 879.43 L441.4 879.4 L442.4 879.37 L443.4 879.35 L444.4 879.33 L445.4 879.32 L446.4 879.31 L447.4 879.29 L448.4 879.29 L449.4 879.28 L450.4 879.27 L451.4 879.27 L452.4 879.26 L453.4 879.26 L454.4 879.26 L455.4 879.25 L456.4 879.24 L457.4 879.23 L458.4 879.22 L459.4 879.21 L460.4 879.2 L461.4 879.18 L462.4 879.16 L463.4 879.13 L464.4 879.1 L465.4 879.07 L466.4 879.03 L467.4 878.98 L468.4 878.93 L469.4 878.87 L470.4 878.81 L471.4 878.74 L472.4 878.66 L473.4 878.57 L474.4 878.47 L475.4 878.37 L476.4 878.26 L477.4 878.14 L478.4 878.01 L479.4 877.86 L480.4 877.71 L481.4 877.55 L482.4 877.37 L483.4 877.19 L484.4 876.99 L485.4 876.78 L486.4 876.55 L487.4 876.31 L488.4 876.06 L489.4 875.8 L490.4 875.52 L491.4 875.22 L492.4 874.91 L493.4 874.59 L494.4 874.25 L495.4 873.9 L496.4 873.54 L497.4 873.17 L498.4 872.79 L499.4 872.41 L500.4 872.02 L501.4 871.63 L502.4 871.24 L503.4 870.84 L504.4 870.44 L505.4 870.05 L506.4 869.66 L507.4 869.27 L508.4 868.89 L509.4 868.51 L510.4 868.15 L511.4 867.79 L512.4 867.44 L513.4 867.1 L514.4 866.77 L515.4 866.45 L516.4 866.14 L517.4 865.84 L518.4 865.56 L519.4 865.28 L520.4 865.02 L521.4 864.77 L522.4 864.53 L523.4 864.31 L524.4 864.09 L525.4 863.9 L526.4 863.71 L527.4 863.55 L528.4 863.4 L529.4 863.26 L530.4 863.15 L531.4 863.06 L532.4 862.98 L533.4 862.93 L534.4 862.9 L535.4 862.88 L536.4 862.89 L537.4 862.91 L538.4 862.95 L539.4 863 L540.4 863.06 L541.4 863.13 L542.4 863.22 L543.4 863.31 L544.4 863.4 L545.4 863.5 L546.4 863.6 L547.4 863.7 L548.4 863.8 L549.4 863.89 L550.4 863.97 L551.4 864.04 L552.4 864.1 L553.4 864.14 L554.4 864.17 L555.4 864.18 L556.4 864.16 L557.4 864.13 L558.4 864.07 L559.4 863.98 L560.4 863.86 L561.4 863.71 L562.4 863.53 L563.4 863.3 L564.4 863.05 L565.4 862.75 L566.4 862.42 L567.4 862.06 L568.4 861.68 L569.4 861.26 L570.4 860.83 L571.4 860.38 L572.4 859.91 L573.4 859.42 L574.4 858.92 L575.4 858.42 L576.4 857.91 L577.4 857.4 L578.4 856.89 L579.4 856.38 L580.4 855.87 L581.4 855.37 L582.4 854.89 L583.4 854.42 L584.4 853.97 L585.4 853.54 L586.4 853.14 L587.4 852.76 L588.4 852.42 L589.4 852.11 L590.4 851.84 L591.4 851.62 L592.4 851.44 L593.4 851.31 L594.4 851.23 L595.4 851.21 L596.4 851.24 L597.4 851.33 L598.4 851.46 L599.4 851.64 L600.4 851.87 L601.4 852.13 L602.4 852.44 L603.4 852.78 L604.4 853.15 L605.4 853.56 L606.4 853.99 L607.4 854.45 L608.4 854.93 L609.4 855.43 L610.4 855.95 L611.4 856.48 L612.4 857.03 L613.4 857.58 L614.4 858.14 L615.4 858.71 L616.4 859.27 L617.4 859.84 L618.4 860.4 L619.4 860.97 L620.4 861.53 L621.4 862.09 L622.4 862.65 L623.4 863.2 L624.4 863.75 L625.4 864.3 L626.4 864.84 L627.4 865.38 L628.4 865.92 L629.4 866.44 L630.4 866.96 L631.4 867.48 L632.4 867.98 L633.4 868.48 L634.4 868.97 L635.4 869.45 L636.4 869.93 L637.4 870.39 L638.4 870.84 L639.4 871.28 L640.4 871.71 L641.4 872.13 L642.4 872.54 L643.4 872.93 L644.4 873.31 L645.4 873.68 L646.4 874.04 L647.4 874.37 L648.4 874.7 L649.4 875.01 L650.4 875.3 L651.4 875.58 L652.4 875.84 L653.4 876.08 L654.4 876.31 L655.4 876.52 L656.4 876.72 L657.4 876.91 L658.4 877.09 L659.4 877.25 L660.4 877.41 L661.4 877.55 L662.4 877.69 L663.4 877.82 L664.4 877.94 L665.4 878.05 L666.4 878.16 L667.4 878.27 L668.4 878.37 L669.4 878.46 L670.4 878.56 L671.4 878.65 L672.4 878.74 L673.4 878.84 L674.4 878.93 L675.4 879.02 L676.4 879.12 L677.4 879.22 L678.4 879.33 L679.4 879.43 L680.4 879.55" fill="none" stroke="#0000ff" stroke-width="1.4" stroke-linecap="butt" stroke-linejoin="round" stroke-dasharray="1.5 2.4"/>
<path d="M470.4 870.48 L471.4 870.39 L472.4 870.3 L473.4 870.21 L474.4 870.12 L475.4 870.02 L476.4 869.93 L477.4 869.84 L478.4 869.75 L479.4 869.65 L480.4 869.56 L481.4 869.46 L482.4 869.37 L483.4 869.27 L484.4 869.18 L485.4 869.08 L486.4 868.99 L487.4 868.89 L488.4 868.79 L489.4 868.69 L490.4 868.59 L491.4 868.49 L492.4 868.39 L493.4 868.29 L494.4 868.19 L495.4 868.09 L496.4 867.99 L497.4 867.89 L498.4 867.78 L499.4 867.68 L500.4 867.58 L501.4 867.47 L502.4 867.37 L503.4 867.26 L504.4 867.16 L505.4 867.05 L506.4 866.94 L507.4 866.83 L508.4 866.73 L509.4 866.62 L510.4 866.51 L511.4 866.4 L512.4 866.29 L513.4 866.18 L514.4 866.07 L515.4 865.95 L516.4 865.84 L517.4 865.73 L518.4 865.61 L519.4 865.5 L520.4 865.38 L521.4 865.27 L522.4 865.15 L523.4 865.04 L524.4 864.92 L525.4 864.8 L526.4 864.68 L527.4 864.56 L528.4 864.44 L529.4 864.32 L530.4 864.2 L531.4 864.08 L532.4 863.96 L533.4 863.84 L534.4 863.71 L535.4 863.59 L536.4 863.46 L537.4 863.34 L538.4 863.21 L539.4 863.09 L540.4 862.96 L541.4 862.83 L542.4 862.7 L543.4 862.58 L544.4 862.45 L545.4 862.32 L546.4 862.19 L547.4 862.05 L548.4 861.92 L549.4 861.79 L550.4 861.66 L551.4 861.52 L552.4 861.39 L553.4 861.25 L554.4 861.12 L555.4 860.98 L556.4 860.84 L557.4 860.7 L558.4 860.57 L559.4 860.43 L560.4 860.29 L561.4 860.15 L562.4 860 L563.4 859.86 L564.4 859.72 L565.4 859.58 L566.4 859.43 L567.4 859.29 L568.4 859.14 L569.4 859 L570.4 858.85 L571.4 858.7 L572.4 858.55 L573.4 858.4 L574.4 858.25 L575.4 858.1 L576.4 857.95 L577.4 857.8 L578.4 857.65 L579.4 857.49 L580.4 857.34 L581.4 857.19 L582.4 857.03 L583.4 856.87 L584.4 856.72 L585.4 856.56 L586.4 856.4 L587.4 856.24 L588.4 856.08 L589.4 855.92 L590.4 855.76 L591.4 855.6 L592.4 855.43 L593.4 855.27 L594.4 855.11 L595.4 854.94 L596.4 854.77 L597.4 854.61 L598.4 854.44 L599.4 854.27 L600.4 854.1 L601.4 853.93 L602.4 853.76 L603.4 853.59 L604.4 853.42 L605.4 853.24 L606.4 853.07 L607.4 852.9 L608.4 852.72 L609.4 852.54 L610.4 852.37 L611.4 852.19 L612.4 852.01 L613.4 851.83 L614.4 851.65 L615.4 851.47 L616.4 851.29 L617.4 851.1 L618.4 850.92 L619.4 850.74 L620.4 850.55 L621.4 850.36 L622.4 850.18 L623.4 849.99 L624.4 849.8 L625.4 849.61 L626.4 849.42 L627.4 849.23 L628.4 849.04 L629.4 848.85 L630.4 848.65 L631.4 848.46 L632.4 848.26 L633.4 848.06 L634.4 847.87 L635.4 847.67 L636.4 847.47 L637.4 847.27 L638.4 847.07 L639.4 846.87 L640.4 846.67 L641.4 846.46 L642.4 846.26 L643.4 846.05 L644.4 845.85 L645.4 845.64 L646.4 845.43 L647.4 845.22 L648.4 845.01" fill="none" stroke="#ff0000" stroke-width="1.05" stroke-linecap="butt" stroke-linejoin="round" stroke-dasharray="6.6 3.4"/>
<path d="M470.4 751.24 L471.4 750.93 L472.4 750.61 L473.4 750.29 L474.4 749.96 L475.4 749.62 L476.4 749.29 L477.4 748.95 L478.4 748.6 L479.4 748.25 L480.4 747.89 L481.4 747.54 L482.4 747.17 L483.4 746.81 L484.4 746.44 L485.4 746.06 L486.4 745.69 L487.4 745.31 L488.4 744.92 L489.4 744.54 L490.4 744.15 L491.4 743.76 L492.4 743.36 L493.4 742.96 L494.4 742.56 L495.4 742.16 L496.4 741.76 L497.4 741.35 L498.4 740.94 L499.4 740.53 L500.4 740.12 L501.4 739.71 L502.4 739.29 L503.4 738.87 L504.4 738.45 L505.4 738.04 L506.4 737.61 L507.4 737.19 L508.4 736.77 L509.4 736.35 L510.4 735.92 L511.4 735.5 L512.4 735.08 L513.4 734.65 L514.4 734.23 L515.4 733.8 L516.4 733.38 L517.4 732.95 L518.4 732.52 L519.4 732.1 L520.4 731.67 L521.4 731.25 L522.4 730.82 L523.4 730.39 L524.4 729.97 L525.4 729.54 L526.4 729.12 L527.4 728.69 L528.4 728.27 L529.4 727.84 L530.4 727.42 L531.4 726.99 L532.4 726.57 L533.4 726.15 L534.4 725.72 L535.4 725.3 L536.4 724.88 L537.4 724.46 L538.4 724.04 L539.4 723.62 L540.4 723.2 L541.4 722.78 L542.4 722.37 L543.4 721.95 L544.4 721.54 L545.4 721.12 L546.4 720.71 L547.4 720.3 L548.4 719.89 L549.4 719.48 L550.4 719.07 L551.4 718.66 L552.4 718.25 L553.4 717.85 L554.4 717.44 L555.4 717.04 L556.4 716.63 L557.4 716.23 L558.4 715.83 L559.4 715.42 L560.4 715.02 L561.4 714.62 L562.4 714.22 L563.4 713.82 L564.4 713.42 L565.4 713.01 L566.4 712.61 L567.4 712.21 L568.4 711.81 L569.4 711.41 L570.4 711.01 L571.4 710.61 L572.4 710.21 L573.4 709.8 L574.4 709.4 L575.4 709 L576.4 708.59 L577.4 708.19 L578.4 707.78 L579.4 707.38 L580.4 706.97 L581.4 706.56 L582.4 706.15 L583.4 705.74 L584.4 705.33 L585.4 704.92 L586.4 704.5 L587.4 704.09 L588.4 703.67 L589.4 703.25 L590.4 702.83 L591.4 702.41 L592.4 701.99 L593.4 701.57 L594.4 701.14 L595.4 700.71 L596.4 700.28 L597.4 699.85 L598.4 699.42 L599.4 698.98 L600.4 698.54 L601.4 698.1 L602.4 697.66 L603.4 697.22 L604.4 696.77 L605.4 696.32 L606.4 695.87 L607.4 695.42 L608.4 694.97 L609.4 694.51 L610.4 694.06 L611.4 693.6 L612.4 693.15 L613.4 692.69 L614.4 692.24 L615.4 691.79 L616.4 691.34 L617.4 690.89 L618.4 690.44 L619.4 689.99 L620.4 689.55 L621.4 689.11 L622.4 688.67 L623.4 688.24 L624.4 687.8 L625.4 687.38 L626.4 686.95 L627.4 686.54 L628.4 686.12 L629.4 685.71 L630.4 685.31 L631.4 684.91 L632.4 684.52 L633.4 684.13 L634.4 683.75 L635.4 683.38 L636.4 683.02 L637.4 682.66 L638.4 682.31 L639.4 681.96 L640.4 681.63 L641.4 681.3 L642.4 680.99 L643.4 680.68 L644.4 680.38 L645.4 680.09 L646.4 679.81 L647.4 679.55 L648.4 679.29" fill="none" stroke="#ff0000" stroke-width="1.3" stroke-linecap="butt" stroke-linejoin="round"/>
</g>
<path d="M151.05 578.4L151.05 570.6M151.05 343.5L151.05 351.3M231.95 578.4L231.95 570.6M231.95 343.5L231.95 351.3M312.85 578.4L312.85 570.6M312.85 343.5L312.85 351.3M110.6 549.04L121.2 549.04M353.3 549.04L342.7 549.04M110.6 519.67L121.2 519.67M353.3 519.67L342.7 519.67M110.6 490.31L121.2 490.31M353.3 490.31L342.7 490.31M110.6 460.95L121.2 460.95M353.3 460.95L342.7 460.95M110.6 431.59L121.2 431.59M353.3 431.59L342.7 431.59M110.6 402.23L121.2 402.23M353.3 402.23L342.7 402.23M110.6 372.86L121.2 372.86M353.3 372.86L342.7 372.86" stroke="#000" stroke-width="0.6" fill="none"/>
<path d="M130.82 578.4L130.82 574.6M130.82 343.5L130.82 347.3M171.28 578.4L171.28 574.6M171.28 343.5L171.28 347.3M191.5 578.4L191.5 574.6M191.5 343.5L191.5 347.3M211.72 578.4L211.72 574.6M211.72 343.5L211.72 347.3M252.18 578.4L252.18 574.6M252.18 343.5L252.18 347.3M272.4 578.4L272.4 574.6M272.4 343.5L272.4 347.3M292.62 578.4L292.62 574.6M292.62 343.5L292.62 347.3M333.08 578.4L333.08 574.6M333.08 343.5L333.08 347.3M110.6 571.06L116 571.06M353.3 571.06L347.9 571.06M110.6 563.72L116 563.72M353.3 563.72L347.9 563.72M110.6 556.38L116 556.38M353.3 556.38L347.9 556.38M110.6 541.7L116 541.7M353.3 541.7L347.9 541.7M110.6 534.36L116 534.36M353.3 534.36L347.9 534.36M110.6 527.02L116 527.02M353.3 527.02L347.9 527.02M110.6 512.33L116 512.33M353.3 512.33L347.9 512.33M110.6 504.99L116 504.99M353.3 504.99L347.9 504.99M110.6 497.65L116 497.65M353.3 497.65L347.9 497.65M110.6 482.97L116 482.97M353.3 482.97L347.9 482.97M110.6 475.63L116 475.63M353.3 475.63L347.9 475.63M110.6 468.29L116 468.29M353.3 468.29L347.9 468.29M110.6 453.61L116 453.61M353.3 453.61L347.9 453.61M110.6 446.27L116 446.27M353.3 446.27L347.9 446.27M110.6 438.93L116 438.93M353.3 438.93L347.9 438.93M110.6 424.25L116 424.25M353.3 424.25L347.9 424.25M110.6 416.91L116 416.91M353.3 416.91L347.9 416.91M110.6 409.57L116 409.57M353.3 409.57L347.9 409.57M110.6 394.88L116 394.88M353.3 394.88L347.9 394.88M110.6 387.54L116 387.54M353.3 387.54L347.9 387.54M110.6 380.2L116 380.2M353.3 380.2L347.9 380.2M110.6 365.52L116 365.52M353.3 365.52L347.9 365.52M110.6 358.18L116 358.18M353.3 358.18L347.9 358.18M110.6 350.84L116 350.84M353.3 350.84L347.9 350.84" stroke="#000" stroke-width="0.55" fill="none"/>
<rect x="110.6" y="343.5" width="242.7" height="234.9" fill="none" stroke="#000" stroke-width="1.15"/>
<path d="M478.6 578.4L478.6 570.6M478.6 343.5L478.6 351.3M559.4 578.4L559.4 570.6M559.4 343.5L559.4 351.3M640.2 578.4L640.2 570.6M640.2 343.5L640.2 351.3M438.2 554.91L448.8 554.91M680.6 554.91L670 554.91M438.2 531.42L448.8 531.42M680.6 531.42L670 531.42M438.2 507.93L448.8 507.93M680.6 507.93L670 507.93M438.2 484.44L448.8 484.44M680.6 484.44L670 484.44M438.2 460.95L448.8 460.95M680.6 460.95L670 460.95M438.2 437.46L448.8 437.46M680.6 437.46L670 437.46M438.2 413.97L448.8 413.97M680.6 413.97L670 413.97M438.2 390.48L448.8 390.48M680.6 390.48L670 390.48M438.2 366.99L448.8 366.99M680.6 366.99L670 366.99" stroke="#000" stroke-width="0.6" fill="none"/>
<path d="M458.4 578.4L458.4 574.6M458.4 343.5L458.4 347.3M498.8 578.4L498.8 574.6M498.8 343.5L498.8 347.3M519 578.4L519 574.6M519 343.5L519 347.3M539.2 578.4L539.2 574.6M539.2 343.5L539.2 347.3M579.6 578.4L579.6 574.6M579.6 343.5L579.6 347.3M599.8 578.4L599.8 574.6M599.8 343.5L599.8 347.3M620 578.4L620 574.6M620 343.5L620 347.3M660.4 578.4L660.4 574.6M660.4 343.5L660.4 347.3M438.2 573.7L443.6 573.7M680.6 573.7L675.2 573.7M438.2 569L443.6 569M680.6 569L675.2 569M438.2 564.31L443.6 564.31M680.6 564.31L675.2 564.31M438.2 559.61L443.6 559.61M680.6 559.61L675.2 559.61M438.2 550.21L443.6 550.21M680.6 550.21L675.2 550.21M438.2 545.51L443.6 545.51M680.6 545.51L675.2 545.51M438.2 540.82L443.6 540.82M680.6 540.82L675.2 540.82M438.2 536.12L443.6 536.12M680.6 536.12L675.2 536.12M438.2 526.72L443.6 526.72M680.6 526.72L675.2 526.72M438.2 522.02L443.6 522.02M680.6 522.02L675.2 522.02M438.2 517.33L443.6 517.33M680.6 517.33L675.2 517.33M438.2 512.63L443.6 512.63M680.6 512.63L675.2 512.63M438.2 503.23L443.6 503.23M680.6 503.23L675.2 503.23M438.2 498.53L443.6 498.53M680.6 498.53L675.2 498.53M438.2 493.84L443.6 493.84M680.6 493.84L675.2 493.84M438.2 489.14L443.6 489.14M680.6 489.14L675.2 489.14M438.2 479.74L443.6 479.74M680.6 479.74L675.2 479.74M438.2 475.04L443.6 475.04M680.6 475.04L675.2 475.04M438.2 470.35L443.6 470.35M680.6 470.35L675.2 470.35M438.2 465.65L443.6 465.65M680.6 465.65L675.2 465.65M438.2 456.25L443.6 456.25M680.6 456.25L675.2 456.25M438.2 451.55L443.6 451.55M680.6 451.55L675.2 451.55M438.2 446.86L443.6 446.86M680.6 446.86L675.2 446.86M438.2 442.16L443.6 442.16M680.6 442.16L675.2 442.16M438.2 432.76L443.6 432.76M680.6 432.76L675.2 432.76M438.2 428.06L443.6 428.06M680.6 428.06L675.2 428.06M438.2 423.37L443.6 423.37M680.6 423.37L675.2 423.37M438.2 418.67L443.6 418.67M680.6 418.67L675.2 418.67M438.2 409.27L443.6 409.27M680.6 409.27L675.2 409.27M438.2 404.57L443.6 404.57M680.6 404.57L675.2 404.57M438.2 399.88L443.6 399.88M680.6 399.88L675.2 399.88M438.2 395.18L443.6 395.18M680.6 395.18L675.2 395.18M438.2 385.78L443.6 385.78M680.6 385.78L675.2 385.78M438.2 381.08L443.6 381.08M680.6 381.08L675.2 381.08M438.2 376.39L443.6 376.39M680.6 376.39L675.2 376.39M438.2 371.69L443.6 371.69M680.6 371.69L675.2 371.69M438.2 362.29L443.6 362.29M680.6 362.29L675.2 362.29M438.2 357.59L443.6 357.59M680.6 357.59L675.2 357.59M438.2 352.9L443.6 352.9M680.6 352.9L675.2 352.9M438.2 348.2L443.6 348.2M680.6 348.2L675.2 348.2" stroke="#000" stroke-width="0.55" fill="none"/>
<rect x="438.2" y="343.5" width="242.4" height="234.9" fill="none" stroke="#000" stroke-width="1.15"/>
<path d="M151.05 879.35L151.05 871.55M151.05 644.4L151.05 652.2M231.95 879.35L231.95 871.55M231.95 644.4L231.95 652.2M312.85 879.35L312.85 871.55M312.85 644.4L312.85 652.2M110.6 849.98L121.2 849.98M353.3 849.98L342.7 849.98M110.6 820.61L121.2 820.61M353.3 820.61L342.7 820.61M110.6 791.24L121.2 791.24M353.3 791.24L342.7 791.24M110.6 761.88L121.2 761.88M353.3 761.88L342.7 761.88M110.6 732.51L121.2 732.51M353.3 732.51L342.7 732.51M110.6 703.14L121.2 703.14M353.3 703.14L342.7 703.14M110.6 673.77L121.2 673.77M353.3 673.77L342.7 673.77" stroke="#000" stroke-width="0.6" fill="none"/>
<path d="M130.82 879.35L130.82 875.55M130.82 644.4L130.82 648.2M171.28 879.35L171.28 875.55M171.28 644.4L171.28 648.2M191.5 879.35L191.5 875.55M191.5 644.4L191.5 648.2M211.72 879.35L211.72 875.55M211.72 644.4L211.72 648.2M252.18 879.35L252.18 875.55M252.18 644.4L252.18 648.2M272.4 879.35L272.4 875.55M272.4 644.4L272.4 648.2M292.62 879.35L292.62 875.55M292.62 644.4L292.62 648.2M333.08 879.35L333.08 875.55M333.08 644.4L333.08 648.2M110.6 872.01L116 872.01M353.3 872.01L347.9 872.01M110.6 864.67L116 864.67M353.3 864.67L347.9 864.67M110.6 857.32L116 857.32M353.3 857.32L347.9 857.32M110.6 842.64L116 842.64M353.3 842.64L347.9 842.64M110.6 835.3L116 835.3M353.3 835.3L347.9 835.3M110.6 827.95L116 827.95M353.3 827.95L347.9 827.95M110.6 813.27L116 813.27M353.3 813.27L347.9 813.27M110.6 805.93L116 805.93M353.3 805.93L347.9 805.93M110.6 798.59L116 798.59M353.3 798.59L347.9 798.59M110.6 783.9L116 783.9M353.3 783.9L347.9 783.9M110.6 776.56L116 776.56M353.3 776.56L347.9 776.56M110.6 769.22L116 769.22M353.3 769.22L347.9 769.22M110.6 754.53L116 754.53M353.3 754.53L347.9 754.53M110.6 747.19L116 747.19M353.3 747.19L347.9 747.19M110.6 739.85L116 739.85M353.3 739.85L347.9 739.85M110.6 725.16L116 725.16M353.3 725.16L347.9 725.16M110.6 717.82L116 717.82M353.3 717.82L347.9 717.82M110.6 710.48L116 710.48M353.3 710.48L347.9 710.48M110.6 695.8L116 695.8M353.3 695.8L347.9 695.8M110.6 688.45L116 688.45M353.3 688.45L347.9 688.45M110.6 681.11L116 681.11M353.3 681.11L347.9 681.11M110.6 666.43L116 666.43M353.3 666.43L347.9 666.43M110.6 659.08L116 659.08M353.3 659.08L347.9 659.08M110.6 651.74L116 651.74M353.3 651.74L347.9 651.74" stroke="#000" stroke-width="0.55" fill="none"/>
<rect x="110.6" y="644.4" width="242.7" height="234.95" fill="none" stroke="#000" stroke-width="1.15"/>
<path d="M478.6 879.35L478.6 871.55M478.6 644.4L478.6 652.2M559.4 879.35L559.4 871.55M559.4 644.4L559.4 652.2M640.2 879.35L640.2 871.55M640.2 644.4L640.2 652.2M438.2 855.86L448.8 855.86M680.6 855.86L670 855.86M438.2 832.36L448.8 832.36M680.6 832.36L670 832.36M438.2 808.87L448.8 808.87M680.6 808.87L670 808.87M438.2 785.37L448.8 785.37M680.6 785.37L670 785.37M438.2 761.88L448.8 761.88M680.6 761.88L670 761.88M438.2 738.38L448.8 738.38M680.6 738.38L670 738.38M438.2 714.88L448.8 714.88M680.6 714.88L670 714.88M438.2 691.39L448.8 691.39M680.6 691.39L670 691.39M438.2 667.89L448.8 667.89M680.6 667.89L670 667.89" stroke="#000" stroke-width="0.6" fill="none"/>
<path d="M458.4 879.35L458.4 875.55M458.4 644.4L458.4 648.2M498.8 879.35L498.8 875.55M498.8 644.4L498.8 648.2M519 879.35L519 875.55M519 644.4L519 648.2M539.2 879.35L539.2 875.55M539.2 644.4L539.2 648.2M579.6 879.35L579.6 875.55M579.6 644.4L579.6 648.2M599.8 879.35L599.8 875.55M599.8 644.4L599.8 648.2M620 879.35L620 875.55M620 644.4L620 648.2M660.4 879.35L660.4 875.55M660.4 644.4L660.4 648.2M438.2 874.65L443.6 874.65M680.6 874.65L675.2 874.65M438.2 869.95L443.6 869.95M680.6 869.95L675.2 869.95M438.2 865.25L443.6 865.25M680.6 865.25L675.2 865.25M438.2 860.55L443.6 860.55M680.6 860.55L675.2 860.55M438.2 851.16L443.6 851.16M680.6 851.16L675.2 851.16M438.2 846.46L443.6 846.46M680.6 846.46L675.2 846.46M438.2 841.76L443.6 841.76M680.6 841.76L675.2 841.76M438.2 837.06L443.6 837.06M680.6 837.06L675.2 837.06M438.2 827.66L443.6 827.66M680.6 827.66L675.2 827.66M438.2 822.96L443.6 822.96M680.6 822.96L675.2 822.96M438.2 818.26L443.6 818.26M680.6 818.26L675.2 818.26M438.2 813.56L443.6 813.56M680.6 813.56L675.2 813.56M438.2 804.17L443.6 804.17M680.6 804.17L675.2 804.17M438.2 799.47L443.6 799.47M680.6 799.47L675.2 799.47M438.2 794.77L443.6 794.77M680.6 794.77L675.2 794.77M438.2 790.07L443.6 790.07M680.6 790.07L675.2 790.07M438.2 780.67L443.6 780.67M680.6 780.67L675.2 780.67M438.2 775.97L443.6 775.97M680.6 775.97L675.2 775.97M438.2 771.27L443.6 771.27M680.6 771.27L675.2 771.27M438.2 766.57L443.6 766.57M680.6 766.57L675.2 766.57M438.2 757.18L443.6 757.18M680.6 757.18L675.2 757.18M438.2 752.48L443.6 752.48M680.6 752.48L675.2 752.48M438.2 747.78L443.6 747.78M680.6 747.78L675.2 747.78M438.2 743.08L443.6 743.08M680.6 743.08L675.2 743.08M438.2 733.68L443.6 733.68M680.6 733.68L675.2 733.68M438.2 728.98L443.6 728.98M680.6 728.98L675.2 728.98M438.2 724.28L443.6 724.28M680.6 724.28L675.2 724.28M438.2 719.58L443.6 719.58M680.6 719.58L675.2 719.58M438.2 710.19L443.6 710.19M680.6 710.19L675.2 710.19M438.2 705.49L443.6 705.49M680.6 705.49L675.2 705.49M438.2 700.79L443.6 700.79M680.6 700.79L675.2 700.79M438.2 696.09L443.6 696.09M680.6 696.09L675.2 696.09M438.2 686.69L443.6 686.69M680.6 686.69L675.2 686.69M438.2 681.99L443.6 681.99M680.6 681.99L675.2 681.99M438.2 677.29L443.6 677.29M680.6 677.29L675.2 677.29M438.2 672.59L443.6 672.59M680.6 672.59L675.2 672.59M438.2 663.2L443.6 663.2M680.6 663.2L675.2 663.2M438.2 658.5L443.6 658.5M680.6 658.5L675.2 658.5M438.2 653.8L443.6 653.8M680.6 653.8L675.2 653.8M438.2 649.1L443.6 649.1M680.6 649.1L675.2 649.1" stroke="#000" stroke-width="0.55" fill="none"/>
<rect x="438.2" y="644.4" width="242.4" height="234.95" fill="none" stroke="#000" stroke-width="1.15"/>
<path transform="translate(128.55 594.9) scale(1)" d="M0 -4.6H10.7" fill="none" stroke="#000" stroke-width="1" stroke-linecap="round" stroke-linejoin="round"/>
<path transform="translate(142.25 594.9) scale(1)" d="M0.7 -7.0C0.7 -8.6 2.3 -9.42 4.6 -9.42C7.0 -9.42 8.7 -8.5 8.7 -6.9C8.7 -5.6 7.6 -4.9 6.2 -4.1L0.55 -0.9V-0.5H8.95" fill="none" stroke="#000" stroke-width="1" stroke-linecap="round" stroke-linejoin="round"/>
<path transform="translate(153.65 594.9) scale(1)" d="M4.7 -9.42C7.1 -9.42 8.9 -7.6 8.9 -4.95C8.9 -2.3 7.1 -0.48 4.7 -0.48C2.3 -0.48 0.5 -2.3 0.5 -4.95C0.5 -7.6 2.3 -9.42 4.7 -9.42Z" fill="none" stroke="#000" stroke-width="1" stroke-linecap="round" stroke-linejoin="round"/>
<path transform="translate(165.05 594.9) scale(1)" d="M4.7 -9.42C7.1 -9.42 8.9 -7.6 8.9 -4.95C8.9 -2.3 7.1 -0.48 4.7 -0.48C2.3 -0.48 0.5 -2.3 0.5 -4.95C0.5 -7.6 2.3 -9.42 4.7 -9.42Z" fill="none" stroke="#000" stroke-width="1" stroke-linecap="round" stroke-linejoin="round"/>
<path transform="translate(227.25 594.9) scale(1)" d="M4.7 -9.42C7.1 -9.42 8.9 -7.6 8.9 -4.95C8.9 -2.3 7.1 -0.48 4.7 -0.48C2.3 -0.48 0.5 -2.3 0.5 -4.95C0.5 -7.6 2.3 -9.42 4.7 -9.42Z" fill="none" stroke="#000" stroke-width="1" stroke-linecap="round" stroke-linejoin="round"/>
<path transform="translate(296.75 594.9) scale(1)" d="M0.7 -7.0C0.7 -8.6 2.3 -9.42 4.6 -9.42C7.0 -9.42 8.7 -8.5 8.7 -6.9C8.7 -5.6 7.6 -4.9 6.2 -4.1L0.55 -0.9V-0.5H8.95" fill="none" stroke="#000" stroke-width="1" stroke-linecap="round" stroke-linejoin="round"/>
<path transform="translate(308.15 594.9) scale(1)" d="M4.7 -9.42C7.1 -9.42 8.9 -7.6 8.9 -4.95C8.9 -2.3 7.1 -0.48 4.7 -0.48C2.3 -0.48 0.5 -2.3 0.5 -4.95C0.5 -7.6 2.3 -9.42 4.7 -9.42Z" fill="none" stroke="#000" stroke-width="1" stroke-linecap="round" stroke-linejoin="round"/>
<path transform="translate(319.55 594.9) scale(1)" d="M4.7 -9.42C7.1 -9.42 8.9 -7.6 8.9 -4.95C8.9 -2.3 7.1 -0.48 4.7 -0.48C2.3 -0.48 0.5 -2.3 0.5 -4.95C0.5 -7.6 2.3 -9.42 4.7 -9.42Z" fill="none" stroke="#000" stroke-width="1" stroke-linecap="round" stroke-linejoin="round"/>
<path transform="translate(128.55 895.8) scale(1)" d="M0 -4.6H10.7" fill="none" stroke="#000" stroke-width="1" stroke-linecap="round" stroke-linejoin="round"/>
<path transform="translate(142.25 895.8) scale(1)" d="M0.7 -7.0C0.7 -8.6 2.3 -9.42 4.6 -9.42C7.0 -9.42 8.7 -8.5 8.7 -6.9C8.7 -5.6 7.6 -4.9 6.2 -4.1L0.55 -0.9V-0.5H8.95" fill="none" stroke="#000" stroke-width="1" stroke-linecap="round" stroke-linejoin="round"/>
<path transform="translate(153.65 895.8) scale(1)" d="M4.7 -9.42C7.1 -9.42 8.9 -7.6 8.9 -4.95C8.9 -2.3 7.1 -0.48 4.7 -0.48C2.3 -0.48 0.5 -2.3 0.5 -4.95C0.5 -7.6 2.3 -9.42 4.7 -9.42Z" fill="none" stroke="#000" stroke-width="1" stroke-linecap="round" stroke-linejoin="round"/>
<path transform="translate(165.05 895.8) scale(1)" d="M4.7 -9.42C7.1 -9.42 8.9 -7.6 8.9 -4.95C8.9 -2.3 7.1 -0.48 4.7 -0.48C2.3 -0.48 0.5 -2.3 0.5 -4.95C0.5 -7.6 2.3 -9.42 4.7 -9.42Z" fill="none" stroke="#000" stroke-width="1" stroke-linecap="round" stroke-linejoin="round"/>
<path transform="translate(227.25 895.8) scale(1)" d="M4.7 -9.42C7.1 -9.42 8.9 -7.6 8.9 -4.95C8.9 -2.3 7.1 -0.48 4.7 -0.48C2.3 -0.48 0.5 -2.3 0.5 -4.95C0.5 -7.6 2.3 -9.42 4.7 -9.42Z" fill="none" stroke="#000" stroke-width="1" stroke-linecap="round" stroke-linejoin="round"/>
<path transform="translate(296.75 895.8) scale(1)" d="M0.7 -7.0C0.7 -8.6 2.3 -9.42 4.6 -9.42C7.0 -9.42 8.7 -8.5 8.7 -6.9C8.7 -5.6 7.6 -4.9 6.2 -4.1L0.55 -0.9V-0.5H8.95" fill="none" stroke="#000" stroke-width="1" stroke-linecap="round" stroke-linejoin="round"/>
<path transform="translate(308.15 895.8) scale(1)" d="M4.7 -9.42C7.1 -9.42 8.9 -7.6 8.9 -4.95C8.9 -2.3 7.1 -0.48 4.7 -0.48C2.3 -0.48 0.5 -2.3 0.5 -4.95C0.5 -7.6 2.3 -9.42 4.7 -9.42Z" fill="none" stroke="#000" stroke-width="1" stroke-linecap="round" stroke-linejoin="round"/>
<path transform="translate(319.55 895.8) scale(1)" d="M4.7 -9.42C7.1 -9.42 8.9 -7.6 8.9 -4.95C8.9 -2.3 7.1 -0.48 4.7 -0.48C2.3 -0.48 0.5 -2.3 0.5 -4.95C0.5 -7.6 2.3 -9.42 4.7 -9.42Z" fill="none" stroke="#000" stroke-width="1" stroke-linecap="round" stroke-linejoin="round"/>
<path transform="translate(456.1 594.9) scale(1)" d="M0 -4.6H10.7" fill="none" stroke="#000" stroke-width="1" stroke-linecap="round" stroke-linejoin="round"/>
<path transform="translate(469.8 594.9) scale(1)" d="M0.7 -7.0C0.7 -8.6 2.3 -9.42 4.6 -9.42C7.0 -9.42 8.7 -8.5 8.7 -6.9C8.7 -5.6 7.6 -4.9 6.2 -4.1L0.55 -0.9V-0.5H8.95" fill="none" stroke="#000" stroke-width="1" stroke-linecap="round" stroke-linejoin="round"/>
<path transform="translate(481.2 594.9) scale(1)" d="M4.7 -9.42C7.1 -9.42 8.9 -7.6 8.9 -4.95C8.9 -2.3 7.1 -0.48 4.7 -0.48C2.3 -0.48 0.5 -2.3 0.5 -4.95C0.5 -7.6 2.3 -9.42 4.7 -9.42Z" fill="none" stroke="#000" stroke-width="1" stroke-linecap="round" stroke-linejoin="round"/>
<path transform="translate(492.6 594.9) scale(1)" d="M4.7 -9.42C7.1 -9.42 8.9 -7.6 8.9 -4.95C8.9 -2.3 7.1 -0.48 4.7 -0.48C2.3 -0.48 0.5 -2.3 0.5 -4.95C0.5 -7.6 2.3 -9.42 4.7 -9.42Z" fill="none" stroke="#000" stroke-width="1" stroke-linecap="round" stroke-linejoin="round"/>
<path transform="translate(554.7 594.9) scale(1)" d="M4.7 -9.42C7.1 -9.42 8.9 -7.6 8.9 -4.95C8.9 -2.3 7.1 -0.48 4.7 -0.48C2.3 -0.48 0.5 -2.3 0.5 -4.95C0.5 -7.6 2.3 -9.42 4.7 -9.42Z" fill="none" stroke="#000" stroke-width="1" stroke-linecap="round" stroke-linejoin="round"/>
<path transform="translate(624.1 594.9) scale(1)" d="M0.7 -7.0C0.7 -8.6 2.3 -9.42 4.6 -9.42C7.0 -9.42 8.7 -8.5 8.7 -6.9C8.7 -5.6 7.6 -4.9 6.2 -4.1L0.55 -0.9V-0.5H8.95" fill="none" stroke="#000" stroke-width="1" stroke-linecap="round" stroke-linejoin="round"/>
<path transform="translate(635.5 594.9) scale(1)" d="M4.7 -9.42C7.1 -9.42 8.9 -7.6 8.9 -4.95C8.9 -2.3 7.1 -0.48 4.7 -0.48C2.3 -0.48 0.5 -2.3 0.5 -4.95C0.5 -7.6 2.3 -9.42 4.7 -9.42Z" fill="none" stroke="#000" stroke-width="1" stroke-linecap="round" stroke-linejoin="round"/>
<path transform="translate(646.9 594.9) scale(1)" d="M4.7 -9.42C7.1 -9.42 8.9 -7.6 8.9 -4.95C8.9 -2.3 7.1 -0.48 4.7 -0.48C2.3 -0.48 0.5 -2.3 0.5 -4.95C0.5 -7.6 2.3 -9.42 4.7 -9.42Z" fill="none" stroke="#000" stroke-width="1" stroke-linecap="round" stroke-linejoin="round"/>
<path transform="translate(456.1 895.8) scale(1)" d="M0 -4.6H10.7" fill="none" stroke="#000" stroke-width="1" stroke-linecap="round" stroke-linejoin="round"/>
<path transform="translate(469.8 895.8) scale(1)" d="M0.7 -7.0C0.7 -8.6 2.3 -9.42 4.6 -9.42C7.0 -9.42 8.7 -8.5 8.7 -6.9C8.7 -5.6 7.6 -4.9 6.2 -4.1L0.55 -0.9V-0.5H8.95" fill="none" stroke="#000" stroke-width="1" stroke-linecap="round" stroke-linejoin="round"/>
<path transform="translate(481.2 895.8) scale(1)" d="M4.7 -9.42C7.1 -9.42 8.9 -7.6 8.9 -4.95C8.9 -2.3 7.1 -0.48 4.7 -0.48C2.3 -0.48 0.5 -2.3 0.5 -4.95C0.5 -7.6 2.3 -9.42 4.7 -9.42Z" fill="none" stroke="#000" stroke-width="1" stroke-linecap="round" stroke-linejoin="round"/>
<path transform="translate(492.6 895.8) scale(1)" d="M4.7 -9.42C7.1 -9.42 8.9 -7.6 8.9 -4.95C8.9 -2.3 7.1 -0.48 4.7 -0.48C2.3 -0.48 0.5 -2.3 0.5 -4.95C0.5 -7.6 2.3 -9.42 4.7 -9.42Z" fill="none" stroke="#000" stroke-width="1" stroke-linecap="round" stroke-linejoin="round"/>
<path transform="translate(554.7 895.8) scale(1)" d="M4.7 -9.42C7.1 -9.42 8.9 -7.6 8.9 -4.95C8.9 -2.3 7.1 -0.48 4.7 -0.48C2.3 -0.48 0.5 -2.3 0.5 -4.95C0.5 -7.6 2.3 -9.42 4.7 -9.42Z" fill="none" stroke="#000" stroke-width="1" stroke-linecap="round" stroke-linejoin="round"/>
<path transform="translate(624.1 895.8) scale(1)" d="M0.7 -7.0C0.7 -8.6 2.3 -9.42 4.6 -9.42C7.0 -9.42 8.7 -8.5 8.7 -6.9C8.7 -5.6 7.6 -4.9 6.2 -4.1L0.55 -0.9V-0.5H8.95" fill="none" stroke="#000" stroke-width="1" stroke-linecap="round" stroke-linejoin="round"/>
<path transform="translate(635.5 895.8) scale(1)" d="M4.7 -9.42C7.1 -9.42 8.9 -7.6 8.9 -4.95C8.9 -2.3 7.1 -0.48 4.7 -0.48C2.3 -0.48 0.5 -2.3 0.5 -4.95C0.5 -7.6 2.3 -9.42 4.7 -9.42Z" fill="none" stroke="#000" stroke-width="1" stroke-linecap="round" stroke-linejoin="round"/>
<path transform="translate(646.9 895.8) scale(1)" d="M4.7 -9.42C7.1 -9.42 8.9 -7.6 8.9 -4.95C8.9 -2.3 7.1 -0.48 4.7 -0.48C2.3 -0.48 0.5 -2.3 0.5 -4.95C0.5 -7.6 2.3 -9.42 4.7 -9.42Z" fill="none" stroke="#000" stroke-width="1" stroke-linecap="round" stroke-linejoin="round"/>
<path transform="translate(89.8 583.35) scale(1)" d="M4.7 -9.42C7.1 -9.42 8.9 -7.6 8.9 -4.95C8.9 -2.3 7.1 -0.48 4.7 -0.48C2.3 -0.48 0.5 -2.3 0.5 -4.95C0.5 -7.6 2.3 -9.42 4.7 -9.42Z" fill="none" stroke="#000" stroke-width="1" stroke-linecap="round" stroke-linejoin="round"/>
<path transform="translate(78.4 553.99) scale(1)" d="M0.7 -7.0C0.7 -8.6 2.3 -9.42 4.6 -9.42C7.0 -9.42 8.7 -8.5 8.7 -6.9C8.7 -5.6 7.6 -4.9 6.2 -4.1L0.55 -0.9V-0.5H8.95" fill="none" stroke="#000" stroke-width="1" stroke-linecap="round" stroke-linejoin="round"/>
<path transform="translate(89.8 553.99) scale(1)" d="M4.7 -9.42C7.1 -9.42 8.9 -7.6 8.9 -4.95C8.9 -2.3 7.1 -0.48 4.7 -0.48C2.3 -0.48 0.5 -2.3 0.5 -4.95C0.5 -7.6 2.3 -9.42 4.7 -9.42Z" fill="none" stroke="#000" stroke-width="1" stroke-linecap="round" stroke-linejoin="round"/>
<path transform="translate(78.4 524.62) scale(1)" d="M6.9 -0.4V-9.4L0.5 -3.0H8.95" fill="none" stroke="#000" stroke-width="1" stroke-linecap="round" stroke-linejoin="round"/>
<path transform="translate(89.8 524.62) scale(1)" d="M4.7 -9.42C7.1 -9.42 8.9 -7.6 8.9 -4.95C8.9 -2.3 7.1 -0.48 4.7 -0.48C2.3 -0.48 0.5 -2.3 0.5 -4.95C0.5 -7.6 2.3 -9.42 4.7 -9.42Z" fill="none" stroke="#000" stroke-width="1" stroke-linecap="round" stroke-linejoin="round"/>
<path transform="translate(78.4 495.26) scale(1)" d="M8.3 -8.0C7.9 -8.9 6.7 -9.42 5.0 -9.42C2.2 -9.42 0.5 -7.6 0.5 -4.6C0.5 -1.9 2.0 -0.48 4.7 -0.48C7.2 -0.48 8.9 -1.6 8.9 -3.3C8.9 -5.0 7.3 -6.1 4.8 -6.1C2.3 -6.1 0.6 -5.0 0.5 -3.6" fill="none" stroke="#000" stroke-width="1" stroke-linecap="round" stroke-linejoin="round"/>
<path transform="translate(89.8 495.26) scale(1)" d="M4.7 -9.42C7.1 -9.42 8.9 -7.6 8.9 -4.95C8.9 -2.3 7.1 -0.48 4.7 -0.48C2.3 -0.48 0.5 -2.3 0.5 -4.95C0.5 -7.6 2.3 -9.42 4.7 -9.42Z" fill="none" stroke="#000" stroke-width="1" stroke-linecap="round" stroke-linejoin="round"/>
<path transform="translate(78.4 465.9) scale(1)" d="M4.7 -9.42C6.8 -9.42 8.3 -8.6 8.3 -7.3C8.3 -6.0 6.8 -5.2 4.7 -5.2C2.6 -5.2 1.1 -6.0 1.1 -7.3C1.1 -8.6 2.6 -9.42 4.7 -9.42ZM4.7 -5.2C7.2 -5.2 8.9 -4.3 8.9 -2.85C8.9 -1.4 7.2 -0.48 4.7 -0.48C2.2 -0.48 0.5 -1.4 0.5 -2.85C0.5 -4.3 2.2 -5.2 4.7 -5.2Z" fill="none" stroke="#000" stroke-width="1" stroke-linecap="round" stroke-linejoin="round"/>
<path transform="translate(89.8 465.9) scale(1)" d="M4.7 -9.42C7.1 -9.42 8.9 -7.6 8.9 -4.95C8.9 -2.3 7.1 -0.48 4.7 -0.48C2.3 -0.48 0.5 -2.3 0.5 -4.95C0.5 -7.6 2.3 -9.42 4.7 -9.42Z" fill="none" stroke="#000" stroke-width="1" stroke-linecap="round" stroke-linejoin="round"/>
<path transform="translate(68.8 436.54) scale(1)" d="M0.5 -7.7L3.3 -9.4V-0.4" fill="none" stroke="#000" stroke-width="1" stroke-linecap="round" stroke-linejoin="round"/>
<path transform="translate(78.4 436.54) scale(1)" d="M4.7 -9.42C7.1 -9.42 8.9 -7.6 8.9 -4.95C8.9 -2.3 7.1 -0.48 4.7 -0.48C2.3 -0.48 0.5 -2.3 0.5 -4.95C0.5 -7.6 2.3 -9.42 4.7 -9.42Z" fill="none" stroke="#000" stroke-width="1" stroke-linecap="round" stroke-linejoin="round"/>
<path transform="translate(89.8 436.54) scale(1)" d="M4.7 -9.42C7.1 -9.42 8.9 -7.6 8.9 -4.95C8.9 -2.3 7.1 -0.48 4.7 -0.48C2.3 -0.48 0.5 -2.3 0.5 -4.95C0.5 -7.6 2.3 -9.42 4.7 -9.42Z" fill="none" stroke="#000" stroke-width="1" stroke-linecap="round" stroke-linejoin="round"/>
<path transform="translate(68.8 407.18) scale(1)" d="M0.5 -7.7L3.3 -9.4V-0.4" fill="none" stroke="#000" stroke-width="1" stroke-linecap="round" stroke-linejoin="round"/>
<path transform="translate(78.4 407.18) scale(1)" d="M0.7 -7.0C0.7 -8.6 2.3 -9.42 4.6 -9.42C7.0 -9.42 8.7 -8.5 8.7 -6.9C8.7 -5.6 7.6 -4.9 6.2 -4.1L0.55 -0.9V-0.5H8.95" fill="none" stroke="#000" stroke-width="1" stroke-linecap="round" stroke-linejoin="round"/>
<path transform="translate(89.8 407.18) scale(1)" d="M4.7 -9.42C7.1 -9.42 8.9 -7.6 8.9 -4.95C8.9 -2.3 7.1 -0.48 4.7 -0.48C2.3 -0.48 0.5 -2.3 0.5 -4.95C0.5 -7.6 2.3 -9.42 4.7 -9.42Z" fill="none" stroke="#000" stroke-width="1" stroke-linecap="round" stroke-linejoin="round"/>
<path transform="translate(68.8 377.81) scale(1)" d="M0.5 -7.7L3.3 -9.4V-0.4" fill="none" stroke="#000" stroke-width="1" stroke-linecap="round" stroke-linejoin="round"/>
<path transform="translate(78.4 377.81) scale(1)" d="M6.9 -0.4V-9.4L0.5 -3.0H8.95" fill="none" stroke="#000" stroke-width="1" stroke-linecap="round" stroke-linejoin="round"/>
<path transform="translate(89.8 377.81) scale(1)" d="M4.7 -9.42C7.1 -9.42 8.9 -7.6 8.9 -4.95C8.9 -2.3 7.1 -0.48 4.7 -0.48C2.3 -0.48 0.5 -2.3 0.5 -4.95C0.5 -7.6 2.3 -9.42 4.7 -9.42Z" fill="none" stroke="#000" stroke-width="1" stroke-linecap="round" stroke-linejoin="round"/>
<path transform="translate(68.8 348.45) scale(1)" d="M0.5 -7.7L3.3 -9.4V-0.4" fill="none" stroke="#000" stroke-width="1" stroke-linecap="round" stroke-linejoin="round"/>
<path transform="translate(78.4 348.45) scale(1)" d="M8.3 -8.0C7.9 -8.9 6.7 -9.42 5.0 -9.42C2.2 -9.42 0.5 -7.6 0.5 -4.6C0.5 -1.9 2.0 -0.48 4.7 -0.48C7.2 -0.48 8.9 -1.6 8.9 -3.3C8.9 -5.0 7.3 -6.1 4.8 -6.1C2.3 -6.1 0.6 -5.0 0.5 -3.6" fill="none" stroke="#000" stroke-width="1" stroke-linecap="round" stroke-linejoin="round"/>
<path transform="translate(89.8 348.45) scale(1)" d="M4.7 -9.42C7.1 -9.42 8.9 -7.6 8.9 -4.95C8.9 -2.3 7.1 -0.48 4.7 -0.48C2.3 -0.48 0.5 -2.3 0.5 -4.95C0.5 -7.6 2.3 -9.42 4.7 -9.42Z" fill="none" stroke="#000" stroke-width="1" stroke-linecap="round" stroke-linejoin="round"/>
<path transform="translate(417.4 583.35) scale(1)" d="M4.7 -9.42C7.1 -9.42 8.9 -7.6 8.9 -4.95C8.9 -2.3 7.1 -0.48 4.7 -0.48C2.3 -0.48 0.5 -2.3 0.5 -4.95C0.5 -7.6 2.3 -9.42 4.7 -9.42Z" fill="none" stroke="#000" stroke-width="1" stroke-linecap="round" stroke-linejoin="round"/>
<path transform="translate(423 559.86) scale(1)" d="M0.5 -7.7L3.3 -9.4V-0.4" fill="none" stroke="#000" stroke-width="1" stroke-linecap="round" stroke-linejoin="round"/>
<path transform="translate(417.4 536.37) scale(1)" d="M0.7 -7.0C0.7 -8.6 2.3 -9.42 4.6 -9.42C7.0 -9.42 8.7 -8.5 8.7 -6.9C8.7 -5.6 7.6 -4.9 6.2 -4.1L0.55 -0.9V-0.5H8.95" fill="none" stroke="#000" stroke-width="1" stroke-linecap="round" stroke-linejoin="round"/>
<path transform="translate(417.4 512.88) scale(1)" d="M0.7 -7.3C0.9 -8.7 2.4 -9.42 4.6 -9.42C6.9 -9.42 8.5 -8.6 8.5 -7.1C8.5 -5.7 7.0 -5.15 4.2 -5.15C7.3 -5.15 8.9 -4.3 8.9 -2.8C8.9 -1.3 7.2 -0.48 4.6 -0.48C2.2 -0.48 0.7 -1.3 0.5 -2.7" fill="none" stroke="#000" stroke-width="1" stroke-linecap="round" stroke-linejoin="round"/>
<path transform="translate(417.4 489.39) scale(1)" d="M6.9 -0.4V-9.4L0.5 -3.0H8.95" fill="none" stroke="#000" stroke-width="1" stroke-linecap="round" stroke-linejoin="round"/>
<path transform="translate(417.4 465.9) scale(1)" d="M8.3 -9.4H1.5L1.0 -5.3C2.0 -5.9 3.2 -6.2 4.7 -6.2C7.2 -6.2 8.9 -5.1 8.9 -3.3C8.9 -1.5 7.2 -0.48 4.6 -0.48C2.3 -0.48 0.8 -1.3 0.5 -2.6" fill="none" stroke="#000" stroke-width="1" stroke-linecap="round" stroke-linejoin="round"/>
<path transform="translate(417.4 442.41) scale(1)" d="M8.3 -8.0C7.9 -8.9 6.7 -9.42 5.0 -9.42C2.2 -9.42 0.5 -7.6 0.5 -4.6C0.5 -1.9 2.0 -0.48 4.7 -0.48C7.2 -0.48 8.9 -1.6 8.9 -3.3C8.9 -5.0 7.3 -6.1 4.8 -6.1C2.3 -6.1 0.6 -5.0 0.5 -3.6" fill="none" stroke="#000" stroke-width="1" stroke-linecap="round" stroke-linejoin="round"/>
<path transform="translate(417.4 418.92) scale(1)" d="M0.5 -9.4H8.9L2.7 -0.4" fill="none" stroke="#000" stroke-width="1" stroke-linecap="round" stroke-linejoin="round"/>
<path transform="translate(417.4 395.43) scale(1)" d="M4.7 -9.42C6.8 -9.42 8.3 -8.6 8.3 -7.3C8.3 -6.0 6.8 -5.2 4.7 -5.2C2.6 -5.2 1.1 -6.0 1.1 -7.3C1.1 -8.6 2.6 -9.42 4.7 -9.42ZM4.7 -5.2C7.2 -5.2 8.9 -4.3 8.9 -2.85C8.9 -1.4 7.2 -0.48 4.7 -0.48C2.2 -0.48 0.5 -1.4 0.5 -2.85C0.5 -4.3 2.2 -5.2 4.7 -5.2Z" fill="none" stroke="#000" stroke-width="1" stroke-linecap="round" stroke-linejoin="round"/>
<path transform="translate(417.4 371.94) scale(1)" d="M1.1 -1.9 C1.5 -1 2.7 -0.48 4.4 -0.48 C7.2 -0.48 8.9 -2.3 8.9 -5.3 C8.9 -8 7.4 -9.42 4.7 -9.42 C2.2 -9.42 0.5 -8.3 0.5 -6.6 C0.5 -4.9 2.1 -3.8 4.6 -3.8 C7.1 -3.8 8.8 -4.9 8.9 -6.3" fill="none" stroke="#000" stroke-width="1" stroke-linecap="round" stroke-linejoin="round"/>
<path transform="translate(407.8 348.45) scale(1)" d="M0.5 -7.7L3.3 -9.4V-0.4" fill="none" stroke="#000" stroke-width="1" stroke-linecap="round" stroke-linejoin="round"/>
<path transform="translate(417.4 348.45) scale(1)" d="M4.7 -9.42C7.1 -9.42 8.9 -7.6 8.9 -4.95C8.9 -2.3 7.1 -0.48 4.7 -0.48C2.3 -0.48 0.5 -2.3 0.5 -4.95C0.5 -7.6 2.3 -9.42 4.7 -9.42Z" fill="none" stroke="#000" stroke-width="1" stroke-linecap="round" stroke-linejoin="round"/>
<path transform="translate(89.8 884.3) scale(1)" d="M4.7 -9.42C7.1 -9.42 8.9 -7.6 8.9 -4.95C8.9 -2.3 7.1 -0.48 4.7 -0.48C2.3 -0.48 0.5 -2.3 0.5 -4.95C0.5 -7.6 2.3 -9.42 4.7 -9.42Z" fill="none" stroke="#000" stroke-width="1" stroke-linecap="round" stroke-linejoin="round"/>
<path transform="translate(78.4 854.93) scale(1)" d="M0.7 -7.0C0.7 -8.6 2.3 -9.42 4.6 -9.42C7.0 -9.42 8.7 -8.5 8.7 -6.9C8.7 -5.6 7.6 -4.9 6.2 -4.1L0.55 -0.9V-0.5H8.95" fill="none" stroke="#000" stroke-width="1" stroke-linecap="round" stroke-linejoin="round"/>
<path transform="translate(89.8 854.93) scale(1)" d="M4.7 -9.42C7.1 -9.42 8.9 -7.6 8.9 -4.95C8.9 -2.3 7.1 -0.48 4.7 -0.48C2.3 -0.48 0.5 -2.3 0.5 -4.95C0.5 -7.6 2.3 -9.42 4.7 -9.42Z" fill="none" stroke="#000" stroke-width="1" stroke-linecap="round" stroke-linejoin="round"/>
<path transform="translate(78.4 825.56) scale(1)" d="M6.9 -0.4V-9.4L0.5 -3.0H8.95" fill="none" stroke="#000" stroke-width="1" stroke-linecap="round" stroke-linejoin="round"/>
<path transform="translate(89.8 825.56) scale(1)" d="M4.7 -9.42C7.1 -9.42 8.9 -7.6 8.9 -4.95C8.9 -2.3 7.1 -0.48 4.7 -0.48C2.3 -0.48 0.5 -2.3 0.5 -4.95C0.5 -7.6 2.3 -9.42 4.7 -9.42Z" fill="none" stroke="#000" stroke-width="1" stroke-linecap="round" stroke-linejoin="round"/>
<path transform="translate(78.4 796.19) scale(1)" d="M8.3 -8.0C7.9 -8.9 6.7 -9.42 5.0 -9.42C2.2 -9.42 0.5 -7.6 0.5 -4.6C0.5 -1.9 2.0 -0.48 4.7 -0.48C7.2 -0.48 8.9 -1.6 8.9 -3.3C8.9 -5.0 7.3 -6.1 4.8 -6.1C2.3 -6.1 0.6 -5.0 0.5 -3.6" fill="none" stroke="#000" stroke-width="1" stroke-linecap="round" stroke-linejoin="round"/>
<path transform="translate(89.8 796.19) scale(1)" d="M4.7 -9.42C7.1 -9.42 8.9 -7.6 8.9 -4.95C8.9 -2.3 7.1 -0.48 4.7 -0.48C2.3 -0.48 0.5 -2.3 0.5 -4.95C0.5 -7.6 2.3 -9.42 4.7 -9.42Z" fill="none" stroke="#000" stroke-width="1" stroke-linecap="round" stroke-linejoin="round"/>
<path transform="translate(78.4 766.83) scale(1)" d="M4.7 -9.42C6.8 -9.42 8.3 -8.6 8.3 -7.3C8.3 -6.0 6.8 -5.2 4.7 -5.2C2.6 -5.2 1.1 -6.0 1.1 -7.3C1.1 -8.6 2.6 -9.42 4.7 -9.42ZM4.7 -5.2C7.2 -5.2 8.9 -4.3 8.9 -2.85C8.9 -1.4 7.2 -0.48 4.7 -0.48C2.2 -0.48 0.5 -1.4 0.5 -2.85C0.5 -4.3 2.2 -5.2 4.7 -5.2Z" fill="none" stroke="#000" stroke-width="1" stroke-linecap="round" stroke-linejoin="round"/>
<path transform="translate(89.8 766.83) scale(1)" d="M4.7 -9.42C7.1 -9.42 8.9 -7.6 8.9 -4.95C8.9 -2.3 7.1 -0.48 4.7 -0.48C2.3 -0.48 0.5 -2.3 0.5 -4.95C0.5 -7.6 2.3 -9.42 4.7 -9.42Z" fill="none" stroke="#000" stroke-width="1" stroke-linecap="round" stroke-linejoin="round"/>
<path transform="translate(68.8 737.46) scale(1)" d="M0.5 -7.7L3.3 -9.4V-0.4" fill="none" stroke="#000" stroke-width="1" stroke-linecap="round" stroke-linejoin="round"/>
<path transform="translate(78.4 737.46) scale(1)" d="M4.7 -9.42C7.1 -9.42 8.9 -7.6 8.9 -4.95C8.9 -2.3 7.1 -0.48 4.7 -0.48C2.3 -0.48 0.5 -2.3 0.5 -4.95C0.5 -7.6 2.3 -9.42 4.7 -9.42Z" fill="none" stroke="#000" stroke-width="1" stroke-linecap="round" stroke-linejoin="round"/>
<path transform="translate(89.8 737.46) scale(1)" d="M4.7 -9.42C7.1 -9.42 8.9 -7.6 8.9 -4.95C8.9 -2.3 7.1 -0.48 4.7 -0.48C2.3 -0.48 0.5 -2.3 0.5 -4.95C0.5 -7.6 2.3 -9.42 4.7 -9.42Z" fill="none" stroke="#000" stroke-width="1" stroke-linecap="round" stroke-linejoin="round"/>
<path transform="translate(68.8 708.09) scale(1)" d="M0.5 -7.7L3.3 -9.4V-0.4" fill="none" stroke="#000" stroke-width="1" stroke-linecap="round" stroke-linejoin="round"/>
<path transform="translate(78.4 708.09) scale(1)" d="M0.7 -7.0C0.7 -8.6 2.3 -9.42 4.6 -9.42C7.0 -9.42 8.7 -8.5 8.7 -6.9C8.7 -5.6 7.6 -4.9 6.2 -4.1L0.55 -0.9V-0.5H8.95" fill="none" stroke="#000" stroke-width="1" stroke-linecap="round" stroke-linejoin="round"/>
<path transform="translate(89.8 708.09) scale(1)" d="M4.7 -9.42C7.1 -9.42 8.9 -7.6 8.9 -4.95C8.9 -2.3 7.1 -0.48 4.7 -0.48C2.3 -0.48 0.5 -2.3 0.5 -4.95C0.5 -7.6 2.3 -9.42 4.7 -9.42Z" fill="none" stroke="#000" stroke-width="1" stroke-linecap="round" stroke-linejoin="round"/>
<path transform="translate(68.8 678.72) scale(1)" d="M0.5 -7.7L3.3 -9.4V-0.4" fill="none" stroke="#000" stroke-width="1" stroke-linecap="round" stroke-linejoin="round"/>
<path transform="translate(78.4 678.72) scale(1)" d="M6.9 -0.4V-9.4L0.5 -3.0H8.95" fill="none" stroke="#000" stroke-width="1" stroke-linecap="round" stroke-linejoin="round"/>
<path transform="translate(89.8 678.72) scale(1)" d="M4.7 -9.42C7.1 -9.42 8.9 -7.6 8.9 -4.95C8.9 -2.3 7.1 -0.48 4.7 -0.48C2.3 -0.48 0.5 -2.3 0.5 -4.95C0.5 -7.6 2.3 -9.42 4.7 -9.42Z" fill="none" stroke="#000" stroke-width="1" stroke-linecap="round" stroke-linejoin="round"/>
<path transform="translate(68.8 649.35) scale(1)" d="M0.5 -7.7L3.3 -9.4V-0.4" fill="none" stroke="#000" stroke-width="1" stroke-linecap="round" stroke-linejoin="round"/>
<path transform="translate(78.4 649.35) scale(1)" d="M8.3 -8.0C7.9 -8.9 6.7 -9.42 5.0 -9.42C2.2 -9.42 0.5 -7.6 0.5 -4.6C0.5 -1.9 2.0 -0.48 4.7 -0.48C7.2 -0.48 8.9 -1.6 8.9 -3.3C8.9 -5.0 7.3 -6.1 4.8 -6.1C2.3 -6.1 0.6 -5.0 0.5 -3.6" fill="none" stroke="#000" stroke-width="1" stroke-linecap="round" stroke-linejoin="round"/>
<path transform="translate(89.8 649.35) scale(1)" d="M4.7 -9.42C7.1 -9.42 8.9 -7.6 8.9 -4.95C8.9 -2.3 7.1 -0.48 4.7 -0.48C2.3 -0.48 0.5 -2.3 0.5 -4.95C0.5 -7.6 2.3 -9.42 4.7 -9.42Z" fill="none" stroke="#000" stroke-width="1" stroke-linecap="round" stroke-linejoin="round"/>
<path transform="translate(417.4 884.3) scale(1)" d="M4.7 -9.42C7.1 -9.42 8.9 -7.6 8.9 -4.95C8.9 -2.3 7.1 -0.48 4.7 -0.48C2.3 -0.48 0.5 -2.3 0.5 -4.95C0.5 -7.6 2.3 -9.42 4.7 -9.42Z" fill="none" stroke="#000" stroke-width="1" stroke-linecap="round" stroke-linejoin="round"/>
<path transform="translate(423 860.81) scale(1)" d="M0.5 -7.7L3.3 -9.4V-0.4" fill="none" stroke="#000" stroke-width="1" stroke-linecap="round" stroke-linejoin="round"/>
<path transform="translate(417.4 837.31) scale(1)" d="M0.7 -7.0C0.7 -8.6 2.3 -9.42 4.6 -9.42C7.0 -9.42 8.7 -8.5 8.7 -6.9C8.7 -5.6 7.6 -4.9 6.2 -4.1L0.55 -0.9V-0.5H8.95" fill="none" stroke="#000" stroke-width="1" stroke-linecap="round" stroke-linejoin="round"/>
<path transform="translate(417.4 813.82) scale(1)" d="M0.7 -7.3C0.9 -8.7 2.4 -9.42 4.6 -9.42C6.9 -9.42 8.5 -8.6 8.5 -7.1C8.5 -5.7 7.0 -5.15 4.2 -5.15C7.3 -5.15 8.9 -4.3 8.9 -2.8C8.9 -1.3 7.2 -0.48 4.6 -0.48C2.2 -0.48 0.7 -1.3 0.5 -2.7" fill="none" stroke="#000" stroke-width="1" stroke-linecap="round" stroke-linejoin="round"/>
<path transform="translate(417.4 790.32) scale(1)" d="M6.9 -0.4V-9.4L0.5 -3.0H8.95" fill="none" stroke="#000" stroke-width="1" stroke-linecap="round" stroke-linejoin="round"/>
<path transform="translate(417.4 766.83) scale(1)" d="M8.3 -9.4H1.5L1.0 -5.3C2.0 -5.9 3.2 -6.2 4.7 -6.2C7.2 -6.2 8.9 -5.1 8.9 -3.3C8.9 -1.5 7.2 -0.48 4.6 -0.48C2.3 -0.48 0.8 -1.3 0.5 -2.6" fill="none" stroke="#000" stroke-width="1" stroke-linecap="round" stroke-linejoin="round"/>
<path transform="translate(417.4 743.33) scale(1)" d="M8.3 -8.0C7.9 -8.9 6.7 -9.42 5.0 -9.42C2.2 -9.42 0.5 -7.6 0.5 -4.6C0.5 -1.9 2.0 -0.48 4.7 -0.48C7.2 -0.48 8.9 -1.6 8.9 -3.3C8.9 -5.0 7.3 -6.1 4.8 -6.1C2.3 -6.1 0.6 -5.0 0.5 -3.6" fill="none" stroke="#000" stroke-width="1" stroke-linecap="round" stroke-linejoin="round"/>
<path transform="translate(417.4 719.84) scale(1)" d="M0.5 -9.4H8.9L2.7 -0.4" fill="none" stroke="#000" stroke-width="1" stroke-linecap="round" stroke-linejoin="round"/>
<path transform="translate(417.4 696.34) scale(1)" d="M4.7 -9.42C6.8 -9.42 8.3 -8.6 8.3 -7.3C8.3 -6.0 6.8 -5.2 4.7 -5.2C2.6 -5.2 1.1 -6.0 1.1 -7.3C1.1 -8.6 2.6 -9.42 4.7 -9.42ZM4.7 -5.2C7.2 -5.2 8.9 -4.3 8.9 -2.85C8.9 -1.4 7.2 -0.48 4.7 -0.48C2.2 -0.48 0.5 -1.4 0.5 -2.85C0.5 -4.3 2.2 -5.2 4.7 -5.2Z" fill="none" stroke="#000" stroke-width="1" stroke-linecap="round" stroke-linejoin="round"/>
<path transform="translate(417.4 672.85) scale(1)" d="M1.1 -1.9 C1.5 -1 2.7 -0.48 4.4 -0.48 C7.2 -0.48 8.9 -2.3 8.9 -5.3 C8.9 -8 7.4 -9.42 4.7 -9.42 C2.2 -9.42 0.5 -8.3 0.5 -6.6 C0.5 -4.9 2.1 -3.8 4.6 -3.8 C7.1 -3.8 8.8 -4.9 8.9 -6.3" fill="none" stroke="#000" stroke-width="1" stroke-linecap="round" stroke-linejoin="round"/>
<path transform="translate(407.8 649.35) scale(1)" d="M0.5 -7.7L3.3 -9.4V-0.4" fill="none" stroke="#000" stroke-width="1" stroke-linecap="round" stroke-linejoin="round"/>
<path transform="translate(417.4 649.35) scale(1)" d="M4.7 -9.42C7.1 -9.42 8.9 -7.6 8.9 -4.95C8.9 -2.3 7.1 -0.48 4.7 -0.48C2.3 -0.48 0.5 -2.3 0.5 -4.95C0.5 -7.6 2.3 -9.42 4.7 -9.42Z" fill="none" stroke="#000" stroke-width="1" stroke-linecap="round" stroke-linejoin="round"/>
<g transform="translate(180.2 612.1)" fill="none" stroke="#000" stroke-linecap="round" stroke-linejoin="round">
<path transform="translate(0 0) scale(1.26 1.06)" d="M0.5 -6.9V3M0.5 -3.7C0.5 -5.6 1.9 -6.9 3.9 -6.9C5.9 -6.9 7.25 -5.6 7.25 -3.7C7.25 -1.8 5.9 -0.48 3.9 -0.48C1.9 -0.48 0.5 -1.8 0.5 -3.7" stroke-width="1.05" vector-effect="non-scaling-stroke"/>
<path transform="translate(10.8 2.8) scale(0.7 0.66)" d="M0.5 -6.9V-0.4M0.5 -4.6C1 -6 2.2 -6.9 3.8 -6.9C5.5 -6.9 6.3 -6 6.3 -4.5V-0.4M6.3 -4.6C6.8 -6 8 -6.9 9.6 -6.9C11.3 -6.9 12.1 -6 12.1 -4.5V-0.4" stroke-width="1.15" vector-effect="non-scaling-stroke"/>
<path transform="translate(27.8 0) scale(1.27 1.06)" d="M2.9 -10.2H0.7V0.3H2.9" stroke-width="1.5" vector-effect="non-scaling-stroke"/>
<path transform="translate(35 0) scale(1.27 1.06)" d="M0.5 -0.4V-9.4L4.9 -0.6L9.3 -9.4V-0.4" stroke-width="1.05" vector-effect="non-scaling-stroke"/>
<path transform="translate(50.4 0) scale(1.22 1.06)" d="M0.5 -3.9H7.3C7.3 -5.7 6 -6.9 3.9 -6.9C1.8 -6.9 0.5 -5.6 0.5 -3.7C0.5 -1.7 1.9 -0.48 4 -0.48C5.5 -0.48 6.6 -1 7.2 -2" stroke-width="1.05" vector-effect="non-scaling-stroke"/>
<path transform="translate(60.8 0) scale(1.26 1.06)" d="M0.5 -9.5L4.55 -0.5L8.6 -9.5" stroke-width="1.05" vector-effect="non-scaling-stroke"/>
<path transform="translate(72.9 0) scale(1.26 1.06)" d="M0.5 3.2L9.8 -11.8" stroke-width="1.05" vector-effect="non-scaling-stroke"/>
<path transform="translate(87.9 0) scale(1.27 1.06)" d="M6.5 -5.3C6 -6.3 5 -6.9 3.7 -6.9C1.8 -6.9 0.5 -5.6 0.5 -3.7C0.5 -1.7 1.8 -0.48 3.7 -0.48C5 -0.48 6 -1.1 6.5 -2.1" stroke-width="1.05" vector-effect="non-scaling-stroke"/>
<path transform="translate(99.7 0) scale(1.27 1.06)" d="M0.4 -10.2H2.6V0.3H0.4" stroke-width="1.5" vector-effect="non-scaling-stroke"/>
</g>
<g transform="translate(180.2 913)" fill="none" stroke="#000" stroke-linecap="round" stroke-linejoin="round">
<path transform="translate(0 0) scale(1.26 1.06)" d="M0.5 -6.9V3M0.5 -3.7C0.5 -5.6 1.9 -6.9 3.9 -6.9C5.9 -6.9 7.25 -5.6 7.25 -3.7C7.25 -1.8 5.9 -0.48 3.9 -0.48C1.9 -0.48 0.5 -1.8 0.5 -3.7" stroke-width="1.05" vector-effect="non-scaling-stroke"/>
<path transform="translate(10.8 2.8) scale(0.7 0.66)" d="M0.5 -6.9V-0.4M0.5 -4.6C1 -6 2.2 -6.9 3.8 -6.9C5.5 -6.9 6.3 -6 6.3 -4.5V-0.4M6.3 -4.6C6.8 -6 8 -6.9 9.6 -6.9C11.3 -6.9 12.1 -6 12.1 -4.5V-0.4" stroke-width="1.15" vector-effect="non-scaling-stroke"/>
<path transform="translate(27.8 0) scale(1.27 1.06)" d="M2.9 -10.2H0.7V0.3H2.9" stroke-width="1.5" vector-effect="non-scaling-stroke"/>
<path transform="translate(35 0) scale(1.27 1.06)" d="M0.5 -0.4V-9.4L4.9 -0.6L9.3 -9.4V-0.4" stroke-width="1.05" vector-effect="non-scaling-stroke"/>
<path transform="translate(50.4 0) scale(1.22 1.06)" d="M0.5 -3.9H7.3C7.3 -5.7 6 -6.9 3.9 -6.9C1.8 -6.9 0.5 -5.6 0.5 -3.7C0.5 -1.7 1.9 -0.48 4 -0.48C5.5 -0.48 6.6 -1 7.2 -2" stroke-width="1.05" vector-effect="non-scaling-stroke"/>
<path transform="translate(60.8 0) scale(1.26 1.06)" d="M0.5 -9.5L4.55 -0.5L8.6 -9.5" stroke-width="1.05" vector-effect="non-scaling-stroke"/>
<path transform="translate(72.9 0) scale(1.26 1.06)" d="M0.5 3.2L9.8 -11.8" stroke-width="1.05" vector-effect="non-scaling-stroke"/>
<path transform="translate(87.9 0) scale(1.27 1.06)" d="M6.5 -5.3C6 -6.3 5 -6.9 3.7 -6.9C1.8 -6.9 0.5 -5.6 0.5 -3.7C0.5 -1.7 1.8 -0.48 3.7 -0.48C5 -0.48 6 -1.1 6.5 -2.1" stroke-width="1.05" vector-effect="non-scaling-stroke"/>
<path transform="translate(99.7 0) scale(1.27 1.06)" d="M0.4 -10.2H2.6V0.3H0.4" stroke-width="1.5" vector-effect="non-scaling-stroke"/>
</g>
<g transform="translate(507.8 612.1)" fill="none" stroke="#000" stroke-linecap="round" stroke-linejoin="round">
<path transform="translate(0 0) scale(1.26 1.06)" d="M0.5 -6.9V3M0.5 -3.7C0.5 -5.6 1.9 -6.9 3.9 -6.9C5.9 -6.9 7.25 -5.6 7.25 -3.7C7.25 -1.8 5.9 -0.48 3.9 -0.48C1.9 -0.48 0.5 -1.8 0.5 -3.7" stroke-width="1.05" vector-effect="non-scaling-stroke"/>
<path transform="translate(10.8 2.8) scale(0.7 0.66)" d="M0.5 -6.9V-0.4M0.5 -4.6C1 -6 2.2 -6.9 3.8 -6.9C5.5 -6.9 6.3 -6 6.3 -4.5V-0.4M6.3 -4.6C6.8 -6 8 -6.9 9.6 -6.9C11.3 -6.9 12.1 -6 12.1 -4.5V-0.4" stroke-width="1.15" vector-effect="non-scaling-stroke"/>
<path transform="translate(27.8 0) scale(1.27 1.06)" d="M2.9 -10.2H0.7V0.3H2.9" stroke-width="1.5" vector-effect="non-scaling-stroke"/>
<path transform="translate(35 0) scale(1.27 1.06)" d="M0.5 -0.4V-9.4L4.9 -0.6L9.3 -9.4V-0.4" stroke-width="1.05" vector-effect="non-scaling-stroke"/>
<path transform="translate(50.4 0) scale(1.22 1.06)" d="M0.5 -3.9H7.3C7.3 -5.7 6 -6.9 3.9 -6.9C1.8 -6.9 0.5 -5.6 0.5 -3.7C0.5 -1.7 1.9 -0.48 4 -0.48C5.5 -0.48 6.6 -1 7.2 -2" stroke-width="1.05" vector-effect="non-scaling-stroke"/>
<path transform="translate(60.8 0) scale(1.26 1.06)" d="M0.5 -9.5L4.55 -0.5L8.6 -9.5" stroke-width="1.05" vector-effect="non-scaling-stroke"/>
<path transform="translate(72.9 0) scale(1.26 1.06)" d="M0.5 3.2L9.8 -11.8" stroke-width="1.05" vector-effect="non-scaling-stroke"/>
<path transform="translate(87.9 0) scale(1.27 1.06)" d="M6.5 -5.3C6 -6.3 5 -6.9 3.7 -6.9C1.8 -6.9 0.5 -5.6 0.5 -3.7C0.5 -1.7 1.8 -0.48 3.7 -0.48C5 -0.48 6 -1.1 6.5 -2.1" stroke-width="1.05" vector-effect="non-scaling-stroke"/>
<path transform="translate(99.7 0) scale(1.27 1.06)" d="M0.4 -10.2H2.6V0.3H0.4" stroke-width="1.5" vector-effect="non-scaling-stroke"/>
</g>
<g transform="translate(507.8 913)" fill="none" stroke="#000" stroke-linecap="round" stroke-linejoin="round">
<path transform="translate(0 0) scale(1.26 1.06)" d="M0.5 -6.9V3M0.5 -3.7C0.5 -5.6 1.9 -6.9 3.9 -6.9C5.9 -6.9 7.25 -5.6 7.25 -3.7C7.25 -1.8 5.9 -0.48 3.9 -0.48C1.9 -0.48 0.5 -1.8 0.5 -3.7" stroke-width="1.05" vector-effect="non-scaling-stroke"/>
<path transform="translate(10.8 2.8) scale(0.7 0.66)" d="M0.5 -6.9V-0.4M0.5 -4.6C1 -6 2.2 -6.9 3.8 -6.9C5.5 -6.9 6.3 -6 6.3 -4.5V-0.4M6.3 -4.6C6.8 -6 8 -6.9 9.6 -6.9C11.3 -6.9 12.1 -6 12.1 -4.5V-0.4" stroke-width="1.15" vector-effect="non-scaling-stroke"/>
<path transform="translate(27.8 0) scale(1.27 1.06)" d="M2.9 -10.2H0.7V0.3H2.9" stroke-width="1.5" vector-effect="non-scaling-stroke"/>
<path transform="translate(35 0) scale(1.27 1.06)" d="M0.5 -0.4V-9.4L4.9 -0.6L9.3 -9.4V-0.4" stroke-width="1.05" vector-effect="non-scaling-stroke"/>
<path transform="translate(50.4 0) scale(1.22 1.06)" d="M0.5 -3.9H7.3C7.3 -5.7 6 -6.9 3.9 -6.9C1.8 -6.9 0.5 -5.6 0.5 -3.7C0.5 -1.7 1.9 -0.48 4 -0.48C5.5 -0.48 6.6 -1 7.2 -2" stroke-width="1.05" vector-effect="non-scaling-stroke"/>
<path transform="translate(60.8 0) scale(1.26 1.06)" d="M0.5 -9.5L4.55 -0.5L8.6 -9.5" stroke-width="1.05" vector-effect="non-scaling-stroke"/>
<path transform="translate(72.9 0) scale(1.26 1.06)" d="M0.5 3.2L9.8 -11.8" stroke-width="1.05" vector-effect="non-scaling-stroke"/>
<path transform="translate(87.9 0) scale(1.27 1.06)" d="M6.5 -5.3C6 -6.3 5 -6.9 3.7 -6.9C1.8 -6.9 0.5 -5.6 0.5 -3.7C0.5 -1.7 1.8 -0.48 3.7 -0.48C5 -0.48 6 -1.1 6.5 -2.1" stroke-width="1.05" vector-effect="non-scaling-stroke"/>
<path transform="translate(99.7 0) scale(1.27 1.06)" d="M0.4 -10.2H2.6V0.3H0.4" stroke-width="1.5" vector-effect="non-scaling-stroke"/>
</g>
<g transform="translate(60.4 516.5) rotate(-90)" fill="none" stroke="#000" stroke-linecap="round" stroke-linejoin="round">
<path transform="translate(0 0) scale(0.9 1.52)" d="M8.8 -6.9H4C1.9 -6.9 0.5 -5.6 0.5 -3.7C0.5 -1.8 1.9 -0.48 4 -0.48C6.1 -0.48 7.4 -1.8 7.4 -3.7C7.4 -5.3 6.4 -6.6 4.6 -6.9" stroke-width="1.05" vector-effect="non-scaling-stroke"/>
<path transform="translate(9.9 3.4) scale(0.58 0.78)" d="M0.5 -6.9V-0.4M0.5 -4.4C0.9 -6 2 -6.9 4 -6.9" stroke-width="1.15" vector-effect="non-scaling-stroke"/>
<path transform="translate(13 3.4) scale(0.54 0.78)" d="M0.5 -3.9H7.3C7.3 -5.7 6 -6.9 3.9 -6.9C1.8 -6.9 0.5 -5.6 0.5 -3.7C0.5 -1.7 1.9 -0.48 4 -0.48C5.5 -0.48 6.6 -1 7.2 -2" stroke-width="1.15" vector-effect="non-scaling-stroke"/>
<path transform="translate(17.6 3.4) scale(0.53 0.78)" d="M7.5 -9.5V-0.5M7.5 -3.7C7.5 -5.6 6.1 -6.9 4 -6.9C1.9 -6.9 0.5 -5.6 0.5 -3.7C0.5 -1.8 1.9 -0.48 4 -0.48C6.1 -0.48 7.5 -1.8 7.5 -3.7" stroke-width="1.15" vector-effect="non-scaling-stroke"/>
<path transform="translate(27.8 0) scale(1.03 1.52)" d="M2.9 -9.35H0.7V-0.55H2.9" stroke-width="1.5" vector-effect="non-scaling-stroke"/>
<path transform="translate(33.6 0) scale(1.24 1.52)" d="M3.3 -11.6C1.4 -9.3 0.5 -7.1 0.5 -4.5C0.5 -1.9 1.4 0.3 3.3 2.6" stroke-width="1.05" vector-effect="non-scaling-stroke"/>
<path transform="translate(39.5 0) scale(0.93 1.52)" d="M9 -7.3C8.4 -8.6 7 -9.42 5.1 -9.42C2.3 -9.42 0.5 -7.6 0.5 -4.95C0.5 -2.3 2.3 -0.48 5.1 -0.48C7.6 -0.48 9.3 -1.8 9.3 -4.4H5.4" stroke-width="1.05" vector-effect="non-scaling-stroke"/>
<path transform="translate(49.9 0) scale(1.01 1.52)" d="M0.5 -3.9H7.3C7.3 -5.7 6 -6.9 3.9 -6.9C1.8 -6.9 0.5 -5.6 0.5 -3.7C0.5 -1.7 1.9 -0.48 4 -0.48C5.5 -0.48 6.6 -1 7.2 -2" stroke-width="1.05" vector-effect="non-scaling-stroke"/>
<path transform="translate(58.6 0) scale(1.01 1.52)" d="M0.5 -9.5L4.55 -0.5L8.6 -9.5" stroke-width="1.05" vector-effect="non-scaling-stroke"/>
<path transform="translate(68.6 0) scale(0.93 1.52)" d="M0.5 3.2L9.8 -11.8" stroke-width="1.05" vector-effect="non-scaling-stroke"/>
<path transform="translate(79.1 0) scale(1.11 1.52)" d="M6.5 -5.3C6 -6.3 5 -6.9 3.7 -6.9C1.8 -6.9 0.5 -5.6 0.5 -3.7C0.5 -1.7 1.8 -0.48 3.7 -0.48C5 -0.48 6 -1.1 6.5 -2.1" stroke-width="1.05" vector-effect="non-scaling-stroke"/>
<path transform="translate(88.6 0) scale(1.3 1.52)" d="M0.4 -11.6C2.3 -9.3 3.2 -7.1 3.2 -4.5C3.2 -1.9 2.3 0.3 0.4 2.6" stroke-width="1.05" vector-effect="non-scaling-stroke"/>
<path transform="translate(95.6 -10.8) scale(0.36 0.8)" d="M0 -4.6H11" stroke-width="1.15" vector-effect="non-scaling-stroke"/>
<path transform="translate(101 -10.8) scale(0.55 0.8)" d="M0.7 -7.3C0.9 -8.7 2.4 -9.42 4.6 -9.42C6.9 -9.42 8.5 -8.6 8.5 -7.1C8.5 -5.7 7.0 -5.15 4.2 -5.15C7.3 -5.15 8.9 -4.3 8.9 -2.8C8.9 -1.3 7.2 -0.48 4.6 -0.48C2.2 -0.48 0.7 -1.3 0.5 -2.7" stroke-width="1.15" vector-effect="non-scaling-stroke"/>
<path transform="translate(106.9 0) scale(1.03 1.52)" d="M0.4 -9.35H2.6V-0.55H0.4" stroke-width="1.5" vector-effect="non-scaling-stroke"/>
</g>
<g transform="translate(387.6 547.5) rotate(-90)" fill="none" stroke="#000" stroke-linecap="round" stroke-linejoin="round">
<path transform="translate(0 0) scale(1.05 1.49)" d="M0.5 -7.7L3.3 -9.4V-0.4" stroke-width="1.05" vector-effect="non-scaling-stroke"/>
<path transform="translate(7.9 0) scale(0.93 1.49)" d="M4.7 -9.42C7.1 -9.42 8.9 -7.6 8.9 -4.95C8.9 -2.3 7.1 -0.48 4.7 -0.48C2.3 -0.48 0.5 -2.3 0.5 -4.95C0.5 -7.6 2.3 -9.42 4.7 -9.42Z" stroke-width="1.05" vector-effect="non-scaling-stroke"/>
<path transform="translate(17.6 -10.5) scale(0.51 0.69)" d="M6.9 -0.4V-9.4L0.5 -3.0H8.95" stroke-width="1.15" vector-effect="non-scaling-stroke"/>
<path transform="translate(23 -10.5) scale(0.51 0.69)" d="M4.7 -9.42C7.1 -9.42 8.9 -7.6 8.9 -4.95C8.9 -2.3 7.1 -0.48 4.7 -0.48C2.3 -0.48 0.5 -2.3 0.5 -4.95C0.5 -7.6 2.3 -9.42 4.7 -9.42Z" stroke-width="1.15" vector-effect="non-scaling-stroke"/>
<path transform="translate(33.1 0) scale(0.88 1.49)" d="M7.5 -9.5V-0.5M7.5 -3.7C7.5 -5.6 6.1 -6.9 4 -6.9C1.9 -6.9 0.5 -5.6 0.5 -3.7C0.5 -1.8 1.9 -0.48 4 -0.48C6.1 -0.48 7.5 -1.8 7.5 -3.7" stroke-width="1.05" vector-effect="non-scaling-stroke"/>
<path transform="translate(41 -10.5) scale(0.53 0.69)" d="M8.3 -9.4H1.5L1.0 -5.3C2.0 -5.9 3.2 -6.2 4.7 -6.2C7.2 -6.2 8.9 -5.1 8.9 -3.3C8.9 -1.5 7.2 -0.48 4.6 -0.48C2.3 -0.48 0.8 -1.3 0.5 -2.6" stroke-width="1.15" vector-effect="non-scaling-stroke"/>
<path transform="translate(48.3 0) scale(0.94 1.49)" d="M8.8 -6.9H4C1.9 -6.9 0.5 -5.6 0.5 -3.7C0.5 -1.8 1.9 -0.48 4 -0.48C6.1 -0.48 7.4 -1.8 7.4 -3.7C7.4 -5.3 6.4 -6.6 4.6 -6.9" stroke-width="1.05" vector-effect="non-scaling-stroke"/>
<path transform="translate(63.3 0) scale(1.06 1.49)" d="M2.9 -9.35H0.7V-0.55H2.9" stroke-width="1.5" vector-effect="non-scaling-stroke"/>
<path transform="translate(68.2 0) scale(1.07 1.49)" d="M6.5 -5.3C6 -6.3 5 -6.9 3.7 -6.9C1.8 -6.9 0.5 -5.6 0.5 -3.7C0.5 -1.7 1.8 -0.48 3.7 -0.48C5 -0.48 6 -1.1 6.5 -2.1" stroke-width="1.05" vector-effect="non-scaling-stroke"/>
<path transform="translate(77.4 0) scale(1.03 1.49)" d="M0.5 -6.9V-0.4M0.5 -4.6C1 -6 2.2 -6.9 3.8 -6.9C5.5 -6.9 6.3 -6 6.3 -4.5V-0.4M6.3 -4.6C6.8 -6 8 -6.9 9.6 -6.9C11.3 -6.9 12.1 -6 12.1 -4.5V-0.4" stroke-width="1.05" vector-effect="non-scaling-stroke"/>
<path transform="translate(91.7 -10.5) scale(0.52 0.69)" d="M0.7 -7.0C0.7 -8.6 2.3 -9.42 4.6 -9.42C7.0 -9.42 8.7 -8.5 8.7 -6.9C8.7 -5.6 7.6 -4.9 6.2 -4.1L0.55 -0.9V-0.5H8.95" stroke-width="1.15" vector-effect="non-scaling-stroke"/>
<path transform="translate(102.8 0) scale(1 1.49)" d="M0.5 -0.4V-9.4L4.9 -0.6L9.3 -9.4V-0.4" stroke-width="1.05" vector-effect="non-scaling-stroke"/>
<path transform="translate(114.2 0) scale(0.99 1.49)" d="M0.5 -3.9H7.3C7.3 -5.7 6 -6.9 3.9 -6.9C1.8 -6.9 0.5 -5.6 0.5 -3.7C0.5 -1.7 1.9 -0.48 4 -0.48C5.5 -0.48 6.6 -1 7.2 -2" stroke-width="1.05" vector-effect="non-scaling-stroke"/>
<path transform="translate(122.6 0) scale(1.05 1.49)" d="M0.5 -9.5L4.55 -0.5L8.6 -9.5" stroke-width="1.05" vector-effect="non-scaling-stroke"/>
<path transform="translate(132.8 -10.5) scale(0.36 0.69)" d="M0 -4.6H11" stroke-width="1.15" vector-effect="non-scaling-stroke"/>
<path transform="translate(138.4 -10.5) scale(0.63 0.69)" d="M0.5 -7.7L3.3 -9.4V-0.4" stroke-width="1.15" vector-effect="non-scaling-stroke"/>
<path transform="translate(144.5 0) scale(1 1.49)" d="M6 -5.5C5.7 -6.4 4.7 -6.9 3.3 -6.9C1.7 -6.9 0.7 -6.2 0.7 -5.2C0.7 -4.3 1.4 -3.9 3.3 -3.6C5.3 -3.3 6.1 -2.8 6.1 -1.9C6.1 -0.9 5 -0.48 3.4 -0.48C1.7 -0.48 0.7 -1 0.5 -2" stroke-width="1.05" vector-effect="non-scaling-stroke"/>
<path transform="translate(151.8 0) scale(1.16 1.49)" d="M0.5 -6.9V-0.4M0.5 -4.4C0.9 -6 2 -6.9 4 -6.9" stroke-width="1.05" vector-effect="non-scaling-stroke"/>
<path transform="translate(159.8 -10.5) scale(0.35 0.69)" d="M0 -4.6H11" stroke-width="1.15" vector-effect="non-scaling-stroke"/>
<path transform="translate(164.5 -10.5) scale(0.51 0.69)" d="M0.7 -7.0C0.7 -8.6 2.3 -9.42 4.6 -9.42C7.0 -9.42 8.7 -8.5 8.7 -6.9C8.7 -5.6 7.6 -4.9 6.2 -4.1L0.55 -0.9V-0.5H8.95" stroke-width="1.15" vector-effect="non-scaling-stroke"/>
<path transform="translate(170.5 0) scale(1.06 1.49)" d="M0.4 -9.35H2.6V-0.55H0.4" stroke-width="1.5" vector-effect="non-scaling-stroke"/>
</g>
<g transform="translate(60.4 817.4) rotate(-90)" fill="none" stroke="#000" stroke-linecap="round" stroke-linejoin="round">
<path transform="translate(0 0) scale(0.9 1.52)" d="M8.8 -6.9H4C1.9 -6.9 0.5 -5.6 0.5 -3.7C0.5 -1.8 1.9 -0.48 4 -0.48C6.1 -0.48 7.4 -1.8 7.4 -3.7C7.4 -5.3 6.4 -6.6 4.6 -6.9" stroke-width="1.05" vector-effect="non-scaling-stroke"/>
<path transform="translate(9.9 3.4) scale(0.58 0.78)" d="M0.5 -6.9V-0.4M0.5 -4.4C0.9 -6 2 -6.9 4 -6.9" stroke-width="1.15" vector-effect="non-scaling-stroke"/>
<path transform="translate(13 3.4) scale(0.54 0.78)" d="M0.5 -3.9H7.3C7.3 -5.7 6 -6.9 3.9 -6.9C1.8 -6.9 0.5 -5.6 0.5 -3.7C0.5 -1.7 1.9 -0.48 4 -0.48C5.5 -0.48 6.6 -1 7.2 -2" stroke-width="1.15" vector-effect="non-scaling-stroke"/>
<path transform="translate(17.6 3.4) scale(0.53 0.78)" d="M7.5 -9.5V-0.5M7.5 -3.7C7.5 -5.6 6.1 -6.9 4 -6.9C1.9 -6.9 0.5 -5.6 0.5 -3.7C0.5 -1.8 1.9 -0.48 4 -0.48C6.1 -0.48 7.5 -1.8 7.5 -3.7" stroke-width="1.15" vector-effect="non-scaling-stroke"/>
<path transform="translate(27.8 0) scale(1.03 1.52)" d="M2.9 -9.35H0.7V-0.55H2.9" stroke-width="1.5" vector-effect="non-scaling-stroke"/>
<path transform="translate(33.6 0) scale(1.24 1.52)" d="M3.3 -11.6C1.4 -9.3 0.5 -7.1 0.5 -4.5C0.5 -1.9 1.4 0.3 3.3 2.6" stroke-width="1.05" vector-effect="non-scaling-stroke"/>
<path transform="translate(39.5 0) scale(0.93 1.52)" d="M9 -7.3C8.4 -8.6 7 -9.42 5.1 -9.42C2.3 -9.42 0.5 -7.6 0.5 -4.95C0.5 -2.3 2.3 -0.48 5.1 -0.48C7.6 -0.48 9.3 -1.8 9.3 -4.4H5.4" stroke-width="1.05" vector-effect="non-scaling-stroke"/>
<path transform="translate(49.9 0) scale(1.01 1.52)" d="M0.5 -3.9H7.3C7.3 -5.7 6 -6.9 3.9 -6.9C1.8 -6.9 0.5 -5.6 0.5 -3.7C0.5 -1.7 1.9 -0.48 4 -0.48C5.5 -0.48 6.6 -1 7.2 -2" stroke-width="1.05" vector-effect="non-scaling-stroke"/>
<path transform="translate(58.6 0) scale(1.01 1.52)" d="M0.5 -9.5L4.55 -0.5L8.6 -9.5" stroke-width="1.05" vector-effect="non-scaling-stroke"/>
<path transform="translate(68.6 0) scale(0.93 1.52)" d="M0.5 3.2L9.8 -11.8" stroke-width="1.05" vector-effect="non-scaling-stroke"/>
<path transform="translate(79.1 0) scale(1.11 1.52)" d="M6.5 -5.3C6 -6.3 5 -6.9 3.7 -6.9C1.8 -6.9 0.5 -5.6 0.5 -3.7C0.5 -1.7 1.8 -0.48 3.7 -0.48C5 -0.48 6 -1.1 6.5 -2.1" stroke-width="1.05" vector-effect="non-scaling-stroke"/>
<path transform="translate(88.6 0) scale(1.3 1.52)" d="M0.4 -11.6C2.3 -9.3 3.2 -7.1 3.2 -4.5C3.2 -1.9 2.3 0.3 0.4 2.6" stroke-width="1.05" vector-effect="non-scaling-stroke"/>
<path transform="translate(95.6 -10.8) scale(0.36 0.8)" d="M0 -4.6H11" stroke-width="1.15" vector-effect="non-scaling-stroke"/>
<path transform="translate(101 -10.8) scale(0.55 0.8)" d="M0.7 -7.3C0.9 -8.7 2.4 -9.42 4.6 -9.42C6.9 -9.42 8.5 -8.6 8.5 -7.1C8.5 -5.7 7.0 -5.15 4.2 -5.15C7.3 -5.15 8.9 -4.3 8.9 -2.8C8.9 -1.3 7.2 -0.48 4.6 -0.48C2.2 -0.48 0.7 -1.3 0.5 -2.7" stroke-width="1.15" vector-effect="non-scaling-stroke"/>
<path transform="translate(106.9 0) scale(1.03 1.52)" d="M0.4 -9.35H2.6V-0.55H0.4" stroke-width="1.5" vector-effect="non-scaling-stroke"/>
</g>
<g transform="translate(387.6 848.4) rotate(-90)" fill="none" stroke="#000" stroke-linecap="round" stroke-linejoin="round">
<path transform="translate(0 0) scale(1.05 1.49)" d="M0.5 -7.7L3.3 -9.4V-0.4" stroke-width="1.05" vector-effect="non-scaling-stroke"/>
<path transform="translate(7.9 0) scale(0.93 1.49)" d="M4.7 -9.42C7.1 -9.42 8.9 -7.6 8.9 -4.95C8.9 -2.3 7.1 -0.48 4.7 -0.48C2.3 -0.48 0.5 -2.3 0.5 -4.95C0.5 -7.6 2.3 -9.42 4.7 -9.42Z" stroke-width="1.05" vector-effect="non-scaling-stroke"/>
<path transform="translate(17.6 -10.5) scale(0.51 0.69)" d="M6.9 -0.4V-9.4L0.5 -3.0H8.95" stroke-width="1.15" vector-effect="non-scaling-stroke"/>
<path transform="translate(23 -10.5) scale(0.63 0.69)" d="M0.5 -7.7L3.3 -9.4V-0.4" stroke-width="1.15" vector-effect="non-scaling-stroke"/>
<path transform="translate(33.1 0) scale(0.88 1.49)" d="M7.5 -9.5V-0.5M7.5 -3.7C7.5 -5.6 6.1 -6.9 4 -6.9C1.9 -6.9 0.5 -5.6 0.5 -3.7C0.5 -1.8 1.9 -0.48 4 -0.48C6.1 -0.48 7.5 -1.8 7.5 -3.7" stroke-width="1.05" vector-effect="non-scaling-stroke"/>
<path transform="translate(41 -10.5) scale(0.53 0.69)" d="M8.3 -9.4H1.5L1.0 -5.3C2.0 -5.9 3.2 -6.2 4.7 -6.2C7.2 -6.2 8.9 -5.1 8.9 -3.3C8.9 -1.5 7.2 -0.48 4.6 -0.48C2.3 -0.48 0.8 -1.3 0.5 -2.6" stroke-width="1.15" vector-effect="non-scaling-stroke"/>
<path transform="translate(48.3 0) scale(0.94 1.49)" d="M8.8 -6.9H4C1.9 -6.9 0.5 -5.6 0.5 -3.7C0.5 -1.8 1.9 -0.48 4 -0.48C6.1 -0.48 7.4 -1.8 7.4 -3.7C7.4 -5.3 6.4 -6.6 4.6 -6.9" stroke-width="1.05" vector-effect="non-scaling-stroke"/>
<path transform="translate(63.3 0) scale(1.06 1.49)" d="M2.9 -9.35H0.7V-0.55H2.9" stroke-width="1.5" vector-effect="non-scaling-stroke"/>
<path transform="translate(68.2 0) scale(1.07 1.49)" d="M6.5 -5.3C6 -6.3 5 -6.9 3.7 -6.9C1.8 -6.9 0.5 -5.6 0.5 -3.7C0.5 -1.7 1.8 -0.48 3.7 -0.48C5 -0.48 6 -1.1 6.5 -2.1" stroke-width="1.05" vector-effect="non-scaling-stroke"/>
<path transform="translate(77.4 0) scale(1.03 1.49)" d="M0.5 -6.9V-0.4M0.5 -4.6C1 -6 2.2 -6.9 3.8 -6.9C5.5 -6.9 6.3 -6 6.3 -4.5V-0.4M6.3 -4.6C6.8 -6 8 -6.9 9.6 -6.9C11.3 -6.9 12.1 -6 12.1 -4.5V-0.4" stroke-width="1.05" vector-effect="non-scaling-stroke"/>
<path transform="translate(91.7 -10.5) scale(0.52 0.69)" d="M0.7 -7.0C0.7 -8.6 2.3 -9.42 4.6 -9.42C7.0 -9.42 8.7 -8.5 8.7 -6.9C8.7 -5.6 7.6 -4.9 6.2 -4.1L0.55 -0.9V-0.5H8.95" stroke-width="1.15" vector-effect="non-scaling-stroke"/>
<path transform="translate(102.8 0) scale(1 1.49)" d="M0.5 -0.4V-9.4L4.9 -0.6L9.3 -9.4V-0.4" stroke-width="1.05" vector-effect="non-scaling-stroke"/>
<path transform="translate(114.2 0) scale(0.99 1.49)" d="M0.5 -3.9H7.3C7.3 -5.7 6 -6.9 3.9 -6.9C1.8 -6.9 0.5 -5.6 0.5 -3.7C0.5 -1.7 1.9 -0.48 4 -0.48C5.5 -0.48 6.6 -1 7.2 -2" stroke-width="1.05" vector-effect="non-scaling-stroke"/>
<path transform="translate(122.6 0) scale(1.05 1.49)" d="M0.5 -9.5L4.55 -0.5L8.6 -9.5" stroke-width="1.05" vector-effect="non-scaling-stroke"/>
<path transform="translate(132.8 -10.5) scale(0.36 0.69)" d="M0 -4.6H11" stroke-width="1.15" vector-effect="non-scaling-stroke"/>
<path transform="translate(138.4 -10.5) scale(0.63 0.69)" d="M0.5 -7.7L3.3 -9.4V-0.4" stroke-width="1.15" vector-effect="non-scaling-stroke"/>
<path transform="translate(144.5 0) scale(1 1.49)" d="M6 -5.5C5.7 -6.4 4.7 -6.9 3.3 -6.9C1.7 -6.9 0.7 -6.2 0.7 -5.2C0.7 -4.3 1.4 -3.9 3.3 -3.6C5.3 -3.3 6.1 -2.8 6.1 -1.9C6.1 -0.9 5 -0.48 3.4 -0.48C1.7 -0.48 0.7 -1 0.5 -2" stroke-width="1.05" vector-effect="non-scaling-stroke"/>
<path transform="translate(151.8 0) scale(1.16 1.49)" d="M0.5 -6.9V-0.4M0.5 -4.4C0.9 -6 2 -6.9 4 -6.9" stroke-width="1.05" vector-effect="non-scaling-stroke"/>
<path transform="translate(159.8 -10.5) scale(0.35 0.69)" d="M0 -4.6H11" stroke-width="1.15" vector-effect="non-scaling-stroke"/>
<path transform="translate(164.5 -10.5) scale(0.51 0.69)" d="M0.7 -7.0C0.7 -8.6 2.3 -9.42 4.6 -9.42C7.0 -9.42 8.7 -8.5 8.7 -6.9C8.7 -5.6 7.6 -4.9 6.2 -4.1L0.55 -0.9V-0.5H8.95" stroke-width="1.15" vector-effect="non-scaling-stroke"/>
<path transform="translate(170.5 0) scale(1.06 1.49)" d="M0.4 -9.35H2.6V-0.55H0.4" stroke-width="1.5" vector-effect="non-scaling-stroke"/>
</g>
<g transform="translate(292.9 373.7)" fill="none" stroke="#ff00ff" stroke-linecap="round" stroke-linejoin="round">
<path transform="translate(0 0) scale(1 1)" d="M6.4 -9.5V-3.2C6.4 -1.4 5.3 -0.48 3.5 -0.48C1.7 -0.48 0.6 -1.4 0.5 -3" stroke-width="1.3" vector-effect="non-scaling-stroke"/>
<path transform="translate(9.6 0) scale(0.99 1)" d="M0.5 -9.5V-0.5H7.6" stroke-width="1.3" vector-effect="non-scaling-stroke"/>
<path transform="translate(18.7 0) scale(1.1 1)" d="M7.5 -6.9V-0.5M7.5 -3.7C7.5 -5.6 6.1 -6.9 4 -6.9C1.9 -6.9 0.5 -5.6 0.5 -3.7C0.5 -1.8 1.9 -0.48 4 -0.48C6.1 -0.48 7.5 -1.8 7.5 -3.7" stroke-width="1.3" vector-effect="non-scaling-stroke"/>
<path transform="translate(29.8 0) scale(0.99 1)" d="M0.5 -9.5V-0.5M0.5 -3.7C0.5 -5.6 1.9 -6.9 4 -6.9C6.1 -6.9 7.5 -5.6 7.5 -3.7C7.5 -1.8 6.1 -0.48 4 -0.48C1.9 -0.48 0.5 -1.8 0.5 -3.7" stroke-width="1.3" vector-effect="non-scaling-stroke"/>
</g>
<g transform="translate(579.9 367.7)" fill="none" stroke="#ff00ff" stroke-linecap="round" stroke-linejoin="round">
<path transform="translate(0 0) scale(1 1)" d="M6.4 -9.5V-3.2C6.4 -1.4 5.3 -0.48 3.5 -0.48C1.7 -0.48 0.6 -1.4 0.5 -3" stroke-width="1.3" vector-effect="non-scaling-stroke"/>
<path transform="translate(9.6 0) scale(0.99 1)" d="M0.5 -9.5V-0.5H7.6" stroke-width="1.3" vector-effect="non-scaling-stroke"/>
<path transform="translate(18.7 0) scale(1.1 1)" d="M7.5 -6.9V-0.5M7.5 -3.7C7.5 -5.6 6.1 -6.9 4 -6.9C1.9 -6.9 0.5 -5.6 0.5 -3.7C0.5 -1.8 1.9 -0.48 4 -0.48C6.1 -0.48 7.5 -1.8 7.5 -3.7" stroke-width="1.3" vector-effect="non-scaling-stroke"/>
<path transform="translate(29.8 0) scale(0.99 1)" d="M0.5 -9.5V-0.5M0.5 -3.7C0.5 -5.6 1.9 -6.9 4 -6.9C6.1 -6.9 7.5 -5.6 7.5 -3.7C7.5 -1.8 6.1 -0.48 4 -0.48C1.9 -0.48 0.5 -1.8 0.5 -3.7" stroke-width="1.3" vector-effect="non-scaling-stroke"/>
</g>
<g transform="translate(285.3 667)" fill="none" stroke="#ff00ff" stroke-linecap="round" stroke-linejoin="round">
<path transform="translate(0 0) scale(1.02 1)" d="M8 -7.4C7.6 -8.7 6.3 -9.42 4.3 -9.42C2.2 -9.42 0.8 -8.5 0.8 -7.1C0.8 -5.8 1.8 -5.3 4.3 -4.9C6.9 -4.5 8.1 -3.9 8.1 -2.6C8.1 -1.2 6.6 -0.48 4.4 -0.48C2.2 -0.48 0.8 -1.3 0.5 -2.7" stroke-width="1.3" vector-effect="non-scaling-stroke"/>
<path transform="translate(11 0) scale(1.01 1)" d="M7.5 -6.9V-0.5M7.5 -3.7C7.5 -5.6 6.1 -6.9 4 -6.9C1.9 -6.9 0.5 -5.6 0.5 -3.7C0.5 -1.8 1.9 -0.48 4 -0.48C6.1 -0.48 7.5 -1.8 7.5 -3.7" stroke-width="1.3" vector-effect="non-scaling-stroke"/>
<path transform="translate(21.2 0) scale(1.17 1)" d="M6.5 -5.3C6 -6.3 5 -6.9 3.7 -6.9C1.8 -6.9 0.5 -5.6 0.5 -3.7C0.5 -1.7 1.8 -0.48 3.7 -0.48C5 -0.48 6 -1.1 6.5 -2.1" stroke-width="1.3" vector-effect="non-scaling-stroke"/>
<path transform="translate(31.8 0) scale(1 1)" d="M0.5 -9.5V-0.5" stroke-width="1.3" vector-effect="non-scaling-stroke"/>
<path transform="translate(35.7 0) scale(1.02 1)" d="M7.5 -6.9V-0.5M7.5 -3.7C7.5 -5.6 6.1 -6.9 4 -6.9C1.9 -6.9 0.5 -5.6 0.5 -3.7C0.5 -1.8 1.9 -0.48 4 -0.48C6.1 -0.48 7.5 -1.8 7.5 -3.7" stroke-width="1.3" vector-effect="non-scaling-stroke"/>
<path transform="translate(44.6 0) scale(1.13 1)" d="M0.5 -6.9L3.9 -0.6M7.3 -6.9L2.7 1.9C2.3 2.7 1.6 3 0.7 2.9" stroke-width="1.3" vector-effect="non-scaling-stroke"/>
</g>
<g transform="translate(612.9 668.1)" fill="none" stroke="#ff00ff" stroke-linecap="round" stroke-linejoin="round">
<path transform="translate(0 0) scale(1.02 1)" d="M8 -7.4C7.6 -8.7 6.3 -9.42 4.3 -9.42C2.2 -9.42 0.8 -8.5 0.8 -7.1C0.8 -5.8 1.8 -5.3 4.3 -4.9C6.9 -4.5 8.1 -3.9 8.1 -2.6C8.1 -1.2 6.6 -0.48 4.4 -0.48C2.2 -0.48 0.8 -1.3 0.5 -2.7" stroke-width="1.3" vector-effect="non-scaling-stroke"/>
<path transform="translate(11 0) scale(1.01 1)" d="M7.5 -6.9V-0.5M7.5 -3.7C7.5 -5.6 6.1 -6.9 4 -6.9C1.9 -6.9 0.5 -5.6 0.5 -3.7C0.5 -1.8 1.9 -0.48 4 -0.48C6.1 -0.48 7.5 -1.8 7.5 -3.7" stroke-width="1.3" vector-effect="non-scaling-stroke"/>
<path transform="translate(21.2 0) scale(1.17 1)" d="M6.5 -5.3C6 -6.3 5 -6.9 3.7 -6.9C1.8 -6.9 0.5 -5.6 0.5 -3.7C0.5 -1.7 1.8 -0.48 3.7 -0.48C5 -0.48 6 -1.1 6.5 -2.1" stroke-width="1.3" vector-effect="non-scaling-stroke"/>
<path transform="translate(31.8 0) scale(1 1)" d="M0.5 -9.5V-0.5" stroke-width="1.3" vector-effect="non-scaling-stroke"/>
<path transform="translate(35.7 0) scale(1.02 1)" d="M7.5 -6.9V-0.5M7.5 -3.7C7.5 -5.6 6.1 -6.9 4 -6.9C1.9 -6.9 0.5 -5.6 0.5 -3.7C0.5 -1.8 1.9 -0.48 4 -0.48C6.1 -0.48 7.5 -1.8 7.5 -3.7" stroke-width="1.3" vector-effect="non-scaling-stroke"/>
<path transform="translate(44.6 0) scale(1.13 1)" d="M0.5 -6.9L3.9 -0.6M7.3 -6.9L2.7 1.9C2.3 2.7 1.6 3 0.7 2.9" stroke-width="1.3" vector-effect="non-scaling-stroke"/>
</g>
<path d="M182.8 490.1H213" stroke="#00ff00" stroke-width="1.3" stroke-dasharray="4.9 5.4 1.8 5.0" fill="none"/>
<path d="M182.8 512.4H215.2" stroke="#000000" stroke-width="1.3" stroke-dasharray="4.8 4.2" fill="none"/>
<path d="M183.1 534.4H216" stroke="#0000ff" stroke-width="1.4" stroke-dasharray="1.6 2.86" fill="none"/>
<path d="M182.8 556.4H216" stroke="#ff0000" stroke-width="1.2" fill="none"/>
<g transform="translate(224.9 490.85)" fill="none" stroke="#00ff00" stroke-linecap="round" stroke-linejoin="round">
<path transform="translate(0 0) scale(1 1)" d="M0.5 -3.9H7.3C7.3 -5.7 6 -6.9 3.9 -6.9C1.8 -6.9 0.5 -5.6 0.5 -3.7C0.5 -1.7 1.9 -0.48 4 -0.48C5.5 -0.48 6.6 -1 7.2 -2" stroke-width="1.15" vector-effect="non-scaling-stroke"/>
<path transform="translate(10.4 0) scale(1 1)" d="M0 -4.1H10.5M5.25 -7.7V0.1" stroke-width="1.15" vector-effect="non-scaling-stroke"/>
<path transform="translate(35.2 0) scale(1 1)" d="M4.95 -9.42C7.5 -9.42 9.4 -7.6 9.4 -4.95C9.4 -2.3 7.5 -0.48 4.95 -0.48C2.4 -0.48 0.5 -2.3 0.5 -4.95C0.5 -7.6 2.4 -9.42 4.95 -9.42Z" stroke-width="1.15" vector-effect="non-scaling-stroke"/>
</g>
<g transform="translate(225 512.7)" fill="none" stroke="#000000" stroke-linecap="round" stroke-linejoin="round">
<path transform="translate(0 0) scale(1 1)" d="M0.2 -5.95H2.7M1.65 -5.9L0.55 -0.35M0.4 -0.35Q5.5 -1.2 7.6 -6.0" stroke-width="1.05" vector-effect="non-scaling-stroke"/>
<path transform="translate(8.2 4.3) scale(1 1)" d="M1.5 -5L0.2 -0.2M1.5 -5L1.0 -3.2C0.8 -2.4 1.5 -2 2.5 -2C3.8 -2 4.8 -3 5.4 -5L4.9 -2.9C4.8 -2.3 5.2 -2 6.0 -2.2" stroke-width="1.2" vector-effect="non-scaling-stroke"/>
<path transform="translate(16.4 0) scale(1 1)" d="M0 -4.1H10.5M5.25 -7.7V0.1" stroke-width="1.05" vector-effect="non-scaling-stroke"/>
<path transform="translate(40.5 0) scale(1.02 1)" d="M4.95 -9.42C7.5 -9.42 9.4 -7.6 9.4 -4.95C9.4 -2.3 7.5 -0.48 4.95 -0.48C2.4 -0.48 0.5 -2.3 0.5 -4.95C0.5 -7.6 2.4 -9.42 4.95 -9.42Z" stroke-width="1.05" vector-effect="non-scaling-stroke"/>
</g>
<g transform="translate(224.9 534.9)" fill="none" stroke="#0000ff" stroke-linecap="round" stroke-linejoin="round">
<path transform="translate(0 0) scale(1 1.05)" d="M0.2 -5.95H2.7M1.65 -5.9L0.55 -0.35M0.4 -0.35Q5.5 -1.2 7.6 -6.0" stroke-width="1.15" vector-effect="non-scaling-stroke"/>
<path transform="translate(-0.5 -9) scale(1 1)" d="M0 0H5.5" stroke-width="1.1" vector-effect="non-scaling-stroke"/>
<path transform="translate(5.5 4) scale(1 1)" d="M1.5 -5L0.2 -0.2M1.5 -5L1.0 -3.2C0.8 -2.4 1.5 -2 2.5 -2C3.8 -2 4.8 -3 5.4 -5L4.9 -2.9C4.8 -2.3 5.2 -2 6.0 -2.2" stroke-width="1.2" vector-effect="non-scaling-stroke"/>
<path transform="translate(19.2 0) scale(0.99 1)" d="M0 -4.1H10.5M5.25 -7.7V0.1" stroke-width="1.15" vector-effect="non-scaling-stroke"/>
<path transform="translate(43.1 0) scale(1.02 1)" d="M4.95 -9.42C7.5 -9.42 9.4 -7.6 9.4 -4.95C9.4 -2.3 7.5 -0.48 4.95 -0.48C2.4 -0.48 0.5 -2.3 0.5 -4.95C0.5 -7.6 2.4 -9.42 4.95 -9.42Z" stroke-width="1.15" vector-effect="non-scaling-stroke"/>
</g>
<text transform="translate(249 484)" font-family='"Liberation Sans", sans-serif' font-size="7" fill="#00ff00" text-anchor="start" font-weight="bold" textLength="9.6" lengthAdjust="spacingAndGlyphs">16</text>
<text transform="translate(255 505.85)" font-family='"Liberation Sans", sans-serif' font-size="7" fill="#000000" text-anchor="start" font-weight="bold" textLength="9.6" lengthAdjust="spacingAndGlyphs">16</text>
<text transform="translate(257.3 528.05)" font-family='"Liberation Sans", sans-serif' font-size="7" fill="#0000ff" text-anchor="start" font-weight="bold" textLength="9.6" lengthAdjust="spacingAndGlyphs">16</text>
<g transform="translate(224.9 557.1)" fill="none" stroke="#ff0000" stroke-linecap="round" stroke-linejoin="round">
<path transform="translate(0 0) scale(1 1)" d="M0.5 -0.4V-9.4H5.6C7.5 -9.4 8.6 -8.4 8.6 -7C8.6 -5.6 7.5 -4.6 5.6 -4.6H0.5M5.4 -4.6L8.7 -0.4" stroke-width="1.15" vector-effect="non-scaling-stroke"/>
<path transform="translate(12.1 0) scale(0.99 1)" d="M0.5 -0.4V-9.4H6.5M0.5 -5H5" stroke-width="1.15" vector-effect="non-scaling-stroke"/>
<path transform="translate(21.2 0) scale(1 1)" d="M9 -7.3C8.4 -8.6 7 -9.42 5.1 -9.42C2.3 -9.42 0.5 -7.6 0.5 -4.95C0.5 -2.3 2.3 -0.48 5.1 -0.48C7.6 -0.48 9.3 -1.8 9.3 -4.4H5.4" stroke-width="1.15" vector-effect="non-scaling-stroke"/>
<path transform="translate(34.3 0) scale(1 1)" d="M0.5 -0.4V-9.4L4.9 -0.6L9.3 -9.4V-0.4" stroke-width="1.15" vector-effect="non-scaling-stroke"/>
</g>
<path d="M182.8 791H213" stroke="#00ff00" stroke-width="1.3" stroke-dasharray="4.9 5.4 1.8 5.0" fill="none"/>
<path d="M182.8 813.3H215.2" stroke="#000000" stroke-width="1.3" stroke-dasharray="4.8 4.2" fill="none"/>
<path d="M183.1 835.3H216" stroke="#0000ff" stroke-width="1.4" stroke-dasharray="1.6 2.86" fill="none"/>
<path d="M182.8 857.3H216" stroke="#ff0000" stroke-width="1.2" fill="none"/>
<g transform="translate(224.9 791.75)" fill="none" stroke="#00ff00" stroke-linecap="round" stroke-linejoin="round">
<path transform="translate(0 0) scale(1 1)" d="M0.5 -3.9H7.3C7.3 -5.7 6 -6.9 3.9 -6.9C1.8 -6.9 0.5 -5.6 0.5 -3.7C0.5 -1.7 1.9 -0.48 4 -0.48C5.5 -0.48 6.6 -1 7.2 -2" stroke-width="1.15" vector-effect="non-scaling-stroke"/>
<path transform="translate(10.4 0) scale(1 1)" d="M0 -4.1H10.5M5.25 -7.7V0.1" stroke-width="1.15" vector-effect="non-scaling-stroke"/>
<path transform="translate(35.2 0) scale(1 1)" d="M4.95 -9.42C7.5 -9.42 9.4 -7.6 9.4 -4.95C9.4 -2.3 7.5 -0.48 4.95 -0.48C2.4 -0.48 0.5 -2.3 0.5 -4.95C0.5 -7.6 2.4 -9.42 4.95 -9.42Z" stroke-width="1.15" vector-effect="non-scaling-stroke"/>
</g>
<g transform="translate(225 813.6)" fill="none" stroke="#000000" stroke-linecap="round" stroke-linejoin="round">
<path transform="translate(0 0) scale(1 1)" d="M0.2 -5.95H2.7M1.65 -5.9L0.55 -0.35M0.4 -0.35Q5.5 -1.2 7.6 -6.0" stroke-width="1.05" vector-effect="non-scaling-stroke"/>
<path transform="translate(8.2 4.3) scale(1 1)" d="M1.5 -5L0.2 -0.2M1.5 -5L1.0 -3.2C0.8 -2.4 1.5 -2 2.5 -2C3.8 -2 4.8 -3 5.4 -5L4.9 -2.9C4.8 -2.3 5.2 -2 6.0 -2.2" stroke-width="1.2" vector-effect="non-scaling-stroke"/>
<path transform="translate(16.4 0) scale(1 1)" d="M0 -4.1H10.5M5.25 -7.7V0.1" stroke-width="1.05" vector-effect="non-scaling-stroke"/>
<path transform="translate(40.5 0) scale(1.02 1)" d="M4.95 -9.42C7.5 -9.42 9.4 -7.6 9.4 -4.95C9.4 -2.3 7.5 -0.48 4.95 -0.48C2.4 -0.48 0.5 -2.3 0.5 -4.95C0.5 -7.6 2.4 -9.42 4.95 -9.42Z" stroke-width="1.05" vector-effect="non-scaling-stroke"/>
</g>
<g transform="translate(224.9 835.8)" fill="none" stroke="#0000ff" stroke-linecap="round" stroke-linejoin="round">
<path transform="translate(0 0) scale(1 1.05)" d="M0.2 -5.95H2.7M1.65 -5.9L0.55 -0.35M0.4 -0.35Q5.5 -1.2 7.6 -6.0" stroke-width="1.15" vector-effect="non-scaling-stroke"/>
<path transform="translate(-0.5 -9) scale(1 1)" d="M0 0H5.5" stroke-width="1.1" vector-effect="non-scaling-stroke"/>
<path transform="translate(5.5 4) scale(1 1)" d="M1.5 -5L0.2 -0.2M1.5 -5L1.0 -3.2C0.8 -2.4 1.5 -2 2.5 -2C3.8 -2 4.8 -3 5.4 -5L4.9 -2.9C4.8 -2.3 5.2 -2 6.0 -2.2" stroke-width="1.2" vector-effect="non-scaling-stroke"/>
<path transform="translate(19.2 0) scale(0.99 1)" d="M0 -4.1H10.5M5.25 -7.7V0.1" stroke-width="1.15" vector-effect="non-scaling-stroke"/>
<path transform="translate(43.1 0) scale(1.02 1)" d="M4.95 -9.42C7.5 -9.42 9.4 -7.6 9.4 -4.95C9.4 -2.3 7.5 -0.48 4.95 -0.48C2.4 -0.48 0.5 -2.3 0.5 -4.95C0.5 -7.6 2.4 -9.42 4.95 -9.42Z" stroke-width="1.15" vector-effect="non-scaling-stroke"/>
</g>
<text transform="translate(249 784.9)" font-family='"Liberation Sans", sans-serif' font-size="7" fill="#00ff00" text-anchor="start" font-weight="bold" textLength="9.6" lengthAdjust="spacingAndGlyphs">16</text>
<text transform="translate(255 806.75)" font-family='"Liberation Sans", sans-serif' font-size="7" fill="#000000" text-anchor="start" font-weight="bold" textLength="9.6" lengthAdjust="spacingAndGlyphs">16</text>
<text transform="translate(257.3 828.95)" font-family='"Liberation Sans", sans-serif' font-size="7" fill="#0000ff" text-anchor="start" font-weight="bold" textLength="9.6" lengthAdjust="spacingAndGlyphs">16</text>
<g transform="translate(224.9 858)" fill="none" stroke="#ff0000" stroke-linecap="round" stroke-linejoin="round">
<path transform="translate(0 0) scale(1 1)" d="M0.5 -0.4V-9.4H5.6C7.5 -9.4 8.6 -8.4 8.6 -7C8.6 -5.6 7.5 -4.6 5.6 -4.6H0.5M5.4 -4.6L8.7 -0.4" stroke-width="1.15" vector-effect="non-scaling-stroke"/>
<path transform="translate(12.1 0) scale(0.99 1)" d="M0.5 -0.4V-9.4H6.5M0.5 -5H5" stroke-width="1.15" vector-effect="non-scaling-stroke"/>
<path transform="translate(21.2 0) scale(1 1)" d="M9 -7.3C8.4 -8.6 7 -9.42 5.1 -9.42C2.3 -9.42 0.5 -7.6 0.5 -4.95C0.5 -2.3 2.3 -0.48 5.1 -0.48C7.6 -0.48 9.3 -1.8 9.3 -4.4H5.4" stroke-width="1.15" vector-effect="non-scaling-stroke"/>
<path transform="translate(34.3 0) scale(1 1)" d="M0.5 -0.4V-9.4L4.9 -0.6L9.3 -9.4V-0.4" stroke-width="1.15" vector-effect="non-scaling-stroke"/>
</g>
<path d="M478.8 366.9H511.2" stroke="#ff0000" stroke-width="1.2" fill="none"/>
<path d="M478.6 390.7H511.2" stroke="#ff0000" stroke-width="1.2" stroke-dasharray="4.6 4.45" fill="none"/>
<g transform="translate(519.9 367.4)" fill="none" stroke="#ff0000" stroke-linecap="round" stroke-linejoin="round">
<path transform="translate(0 0) scale(1 1.05)" d="M0.2 -5.95H2.7M1.65 -5.9L0.55 -0.35M0.4 -0.35Q5.5 -1.2 7.6 -6.0" stroke-width="1.15" vector-effect="non-scaling-stroke"/>
<path transform="translate(8.4 4.3) scale(1 1)" d="M1.5 -5L0.2 -0.2M1.5 -5L1.0 -3.2C0.8 -2.4 1.5 -2 2.5 -2C3.8 -2 4.8 -3 5.4 -5L4.9 -2.9C4.8 -2.3 5.2 -2 6.0 -2.2" stroke-width="1.2" vector-effect="non-scaling-stroke"/>
</g>
<g transform="translate(520 390.8)" fill="none" stroke="#ff0000" stroke-linecap="round" stroke-linejoin="round">
<path transform="translate(0 0) scale(1 1.08)" d="M0.2 -5.95H2.7M1.65 -5.9L0.55 -0.35M0.4 -0.35Q5.5 -1.2 7.6 -6.0" stroke-width="1.15" vector-effect="non-scaling-stroke"/>
<path transform="translate(-0.3 -9.2) scale(0.95 1)" d="M0 0H5.5" stroke-width="1.1" vector-effect="non-scaling-stroke"/>
<path transform="translate(6 3.8) scale(0.94 0.95)" d="M1.5 -5L0.2 -0.2M1.5 -5L1.0 -3.2C0.8 -2.4 1.5 -2 2.5 -2C3.8 -2 4.8 -3 5.4 -5L4.9 -2.9C4.8 -2.3 5.2 -2 6.0 -2.2" stroke-width="1.2" vector-effect="non-scaling-stroke"/>
</g>
<path d="M478.8 667.9H511.2" stroke="#ff0000" stroke-width="1.2" fill="none"/>
<path d="M478.6 691.7H511.2" stroke="#ff0000" stroke-width="1.0" stroke-dasharray="4.6 4.45" fill="none"/>
<g transform="translate(519.9 668.4)" fill="none" stroke="#ff0000" stroke-linecap="round" stroke-linejoin="round">
<path transform="translate(0 0) scale(1 1.05)" d="M0.2 -5.95H2.7M1.65 -5.9L0.55 -0.35M0.4 -0.35Q5.5 -1.2 7.6 -6.0" stroke-width="1.15" vector-effect="non-scaling-stroke"/>
<path transform="translate(8.4 4.3) scale(1 1)" d="M1.5 -5L0.2 -0.2M1.5 -5L1.0 -3.2C0.8 -2.4 1.5 -2 2.5 -2C3.8 -2 4.8 -3 5.4 -5L4.9 -2.9C4.8 -2.3 5.2 -2 6.0 -2.2" stroke-width="1.2" vector-effect="non-scaling-stroke"/>
</g>
<g transform="translate(520 691.8)" fill="none" stroke="#ff0000" stroke-linecap="round" stroke-linejoin="round">
<path transform="translate(0 0) scale(1 1.08)" d="M0.2 -5.95H2.7M1.65 -5.9L0.55 -0.35M0.4 -0.35Q5.5 -1.2 7.6 -6.0" stroke-width="1.15" vector-effect="non-scaling-stroke"/>
<path transform="translate(-0.3 -9.2) scale(0.95 1)" d="M0 0H5.5" stroke-width="1.1" vector-effect="non-scaling-stroke"/>
<path transform="translate(6 3.8) scale(0.94 0.95)" d="M1.5 -5L0.2 -0.2M1.5 -5L1.0 -3.2C0.8 -2.4 1.5 -2 2.5 -2C3.8 -2 4.8 -3 5.4 -5L4.9 -2.9C4.8 -2.3 5.2 -2 6.0 -2.2" stroke-width="1.2" vector-effect="non-scaling-stroke"/>
</g>
</g>
</svg>
</body></html>
